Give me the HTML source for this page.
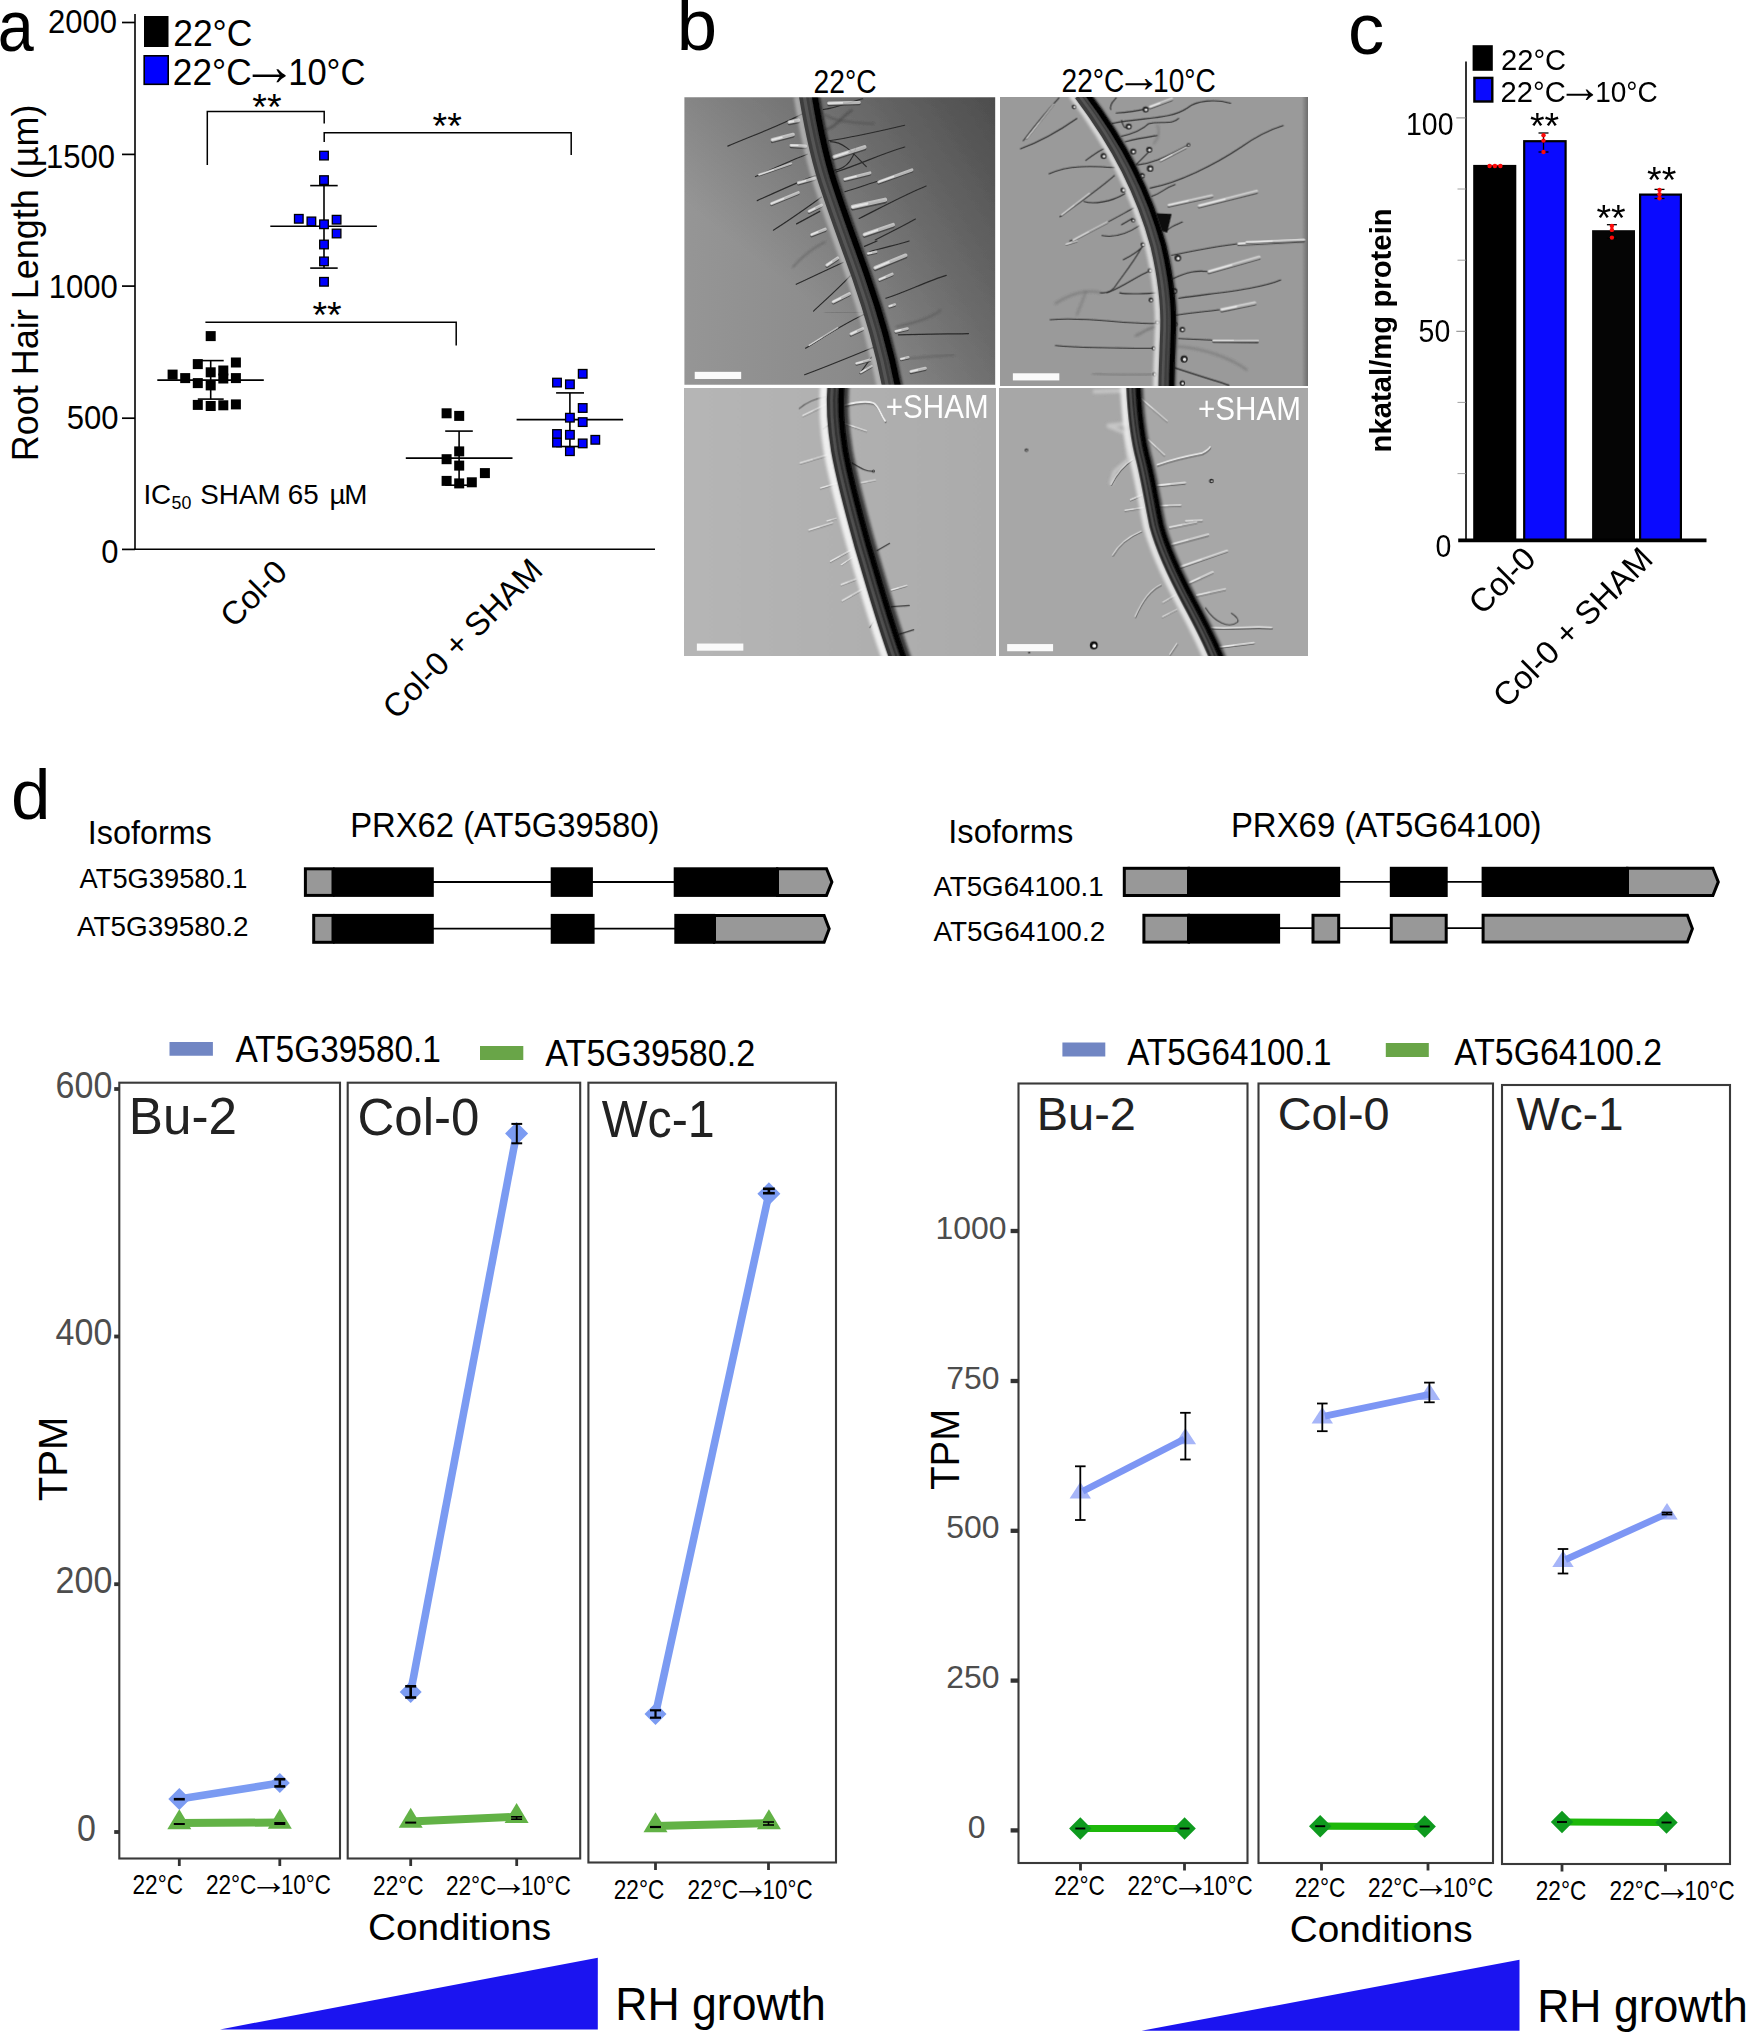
<!DOCTYPE html>
<html lang="en"><head><meta charset="utf-8"><title>Figure</title>
<style>html,body{margin:0;padding:0;background:#fff}svg{display:block}text{font-family:"Liberation Sans", sans-serif}</style>
</head><body>
<svg width="1746" height="2032" viewBox="0 0 1746 2032">
<rect width="1746" height="2032" fill="#fff"/>
<g id="panel-a">
<text x="-2.2" y="51.0" font-size="72.5" textLength="36" lengthAdjust="spacingAndGlyphs">a</text>
<line x1="135" y1="14" x2="135" y2="550.0" stroke="#000" stroke-width="1.6" />
<line x1="134.2" y1="549.2" x2="655" y2="549.2" stroke="#000" stroke-width="1.6" />
<line x1="122.0" y1="22.5" x2="135" y2="22.5" stroke="#000" stroke-width="1.7" />
<text x="117.0" y="32.7" font-size="33" text-anchor="end" textLength="69.0" lengthAdjust="spacingAndGlyphs">2000</text>
<line x1="122.0" y1="154.4" x2="135" y2="154.4" stroke="#000" stroke-width="1.7" />
<text x="115.1" y="167.8" font-size="33" text-anchor="end" textLength="69.0" lengthAdjust="spacingAndGlyphs">1500</text>
<line x1="122.0" y1="286.1" x2="135" y2="286.1" stroke="#000" stroke-width="1.7" />
<text x="117.8" y="297.5" font-size="33" text-anchor="end" textLength="69.0" lengthAdjust="spacingAndGlyphs">1000</text>
<line x1="122.0" y1="418.2" x2="135" y2="418.2" stroke="#000" stroke-width="1.7" />
<text x="118.5" y="428.9" font-size="33" text-anchor="end" textLength="51.8" lengthAdjust="spacingAndGlyphs">500</text>
<line x1="122.0" y1="549.4" x2="135" y2="549.4" stroke="#000" stroke-width="1.7" />
<text x="118.5" y="563.0" font-size="33" text-anchor="end" textLength="17.2" lengthAdjust="spacingAndGlyphs">0</text>
<text x="37.6" y="461.3" font-size="36" transform="rotate(-90 37.6 461.3)">Root Hair Length (µm)</text>
<rect x="144" y="16" width="24.5" height="31" fill="#000" />
<rect x="144.2" y="55.8" width="24" height="28.5" fill="#0000ff" stroke="#000" stroke-width="1.6" />
<text x="173.2" y="46.1" font-size="36.2" textLength="79.2" lengthAdjust="spacingAndGlyphs">22°C</text>
<text x="172.8" y="85" font-size="36.2" textLength="78.8" lengthAdjust="spacingAndGlyphs">22°C</text>
<text x="241.55" y="85.40" font-size="55.76">→</text>
<text x="288.2" y="85" font-size="36.2" textLength="77.2" lengthAdjust="spacingAndGlyphs">10°C</text>
<path d="M207.3 165 V111.6 H324.2 V123.6" fill="none" stroke="#000" stroke-width="1.5" />
<path d="M324.2 141.9 V132.7 H571.2 V155.1" fill="none" stroke="#000" stroke-width="1.5" />
<path d="M205.4 322.3 H456.2 V345.5" fill="none" stroke="#000" stroke-width="1.5" />
<text x="266.9" y="120.1" font-size="37.5" text-anchor="middle">**</text>
<text x="447.2" y="139.4" font-size="37.5" text-anchor="middle">**</text>
<text x="327" y="328.4" font-size="37.5" text-anchor="middle">**</text>
<text x="143.4" y="504.2" font-size="27.8">IC<tspan font-size="17.8" dy="5.2" x="171.6">50 </tspan><tspan dy="-5.2" x="200.3">SHAM </tspan><tspan x="287.8">65 </tspan><tspan x="329.6">µ</tspan><tspan x="344.3">M</tspan></text>
<line x1="157.3" y1="380.1" x2="263.8" y2="380.1" stroke="#000" stroke-width="1.6" />
<line x1="210.7" y1="360.6" x2="210.7" y2="399.1" stroke="#000" stroke-width="1.6" />
<line x1="197.8" y1="360.6" x2="223.7" y2="360.6" stroke="#000" stroke-width="1.6" />
<line x1="197.8" y1="399.1" x2="223.7" y2="399.1" stroke="#000" stroke-width="1.6" />
<rect x="205.7" y="331.1" width="10" height="10" fill="#000" />
<rect x="192.8" y="359.1" width="10" height="10" fill="#000" />
<rect x="230.9" y="357.5" width="10" height="10" fill="#000" />
<rect x="205.7" y="367.3" width="10" height="10" fill="#000" />
<rect x="218.3" y="365.5" width="10" height="10" fill="#000" />
<rect x="167.6" y="369.6" width="10" height="10" fill="#000" />
<rect x="180.2" y="373.1" width="10" height="10" fill="#000" />
<rect x="218.3" y="373.5" width="10" height="10" fill="#000" />
<rect x="230.9" y="373.1" width="10" height="10" fill="#000" />
<rect x="192.8" y="378.1" width="10" height="10" fill="#000" />
<rect x="205.7" y="380.4" width="10" height="10" fill="#000" />
<rect x="192.8" y="399.9" width="10" height="10" fill="#000" />
<rect x="205.7" y="401" width="10" height="10" fill="#000" />
<rect x="218.3" y="400.3" width="10" height="10" fill="#000" />
<rect x="230.9" y="399.4" width="10" height="10" fill="#000" />
<line x1="270.3" y1="226.2" x2="376.9" y2="226.2" stroke="#000" stroke-width="1.6" />
<line x1="324" y1="185.6" x2="324" y2="268.1" stroke="#000" stroke-width="1.6" />
<line x1="310.2" y1="185.6" x2="337.7" y2="185.6" stroke="#000" stroke-width="1.6" />
<line x1="310.2" y1="268.1" x2="337.7" y2="268.1" stroke="#000" stroke-width="1.6" />
<rect x="319.7" y="151.3" width="8.6" height="8.6" fill="#0000ff" stroke="#000" stroke-width="1.3" />
<rect x="319.7" y="175.8" width="8.6" height="8.6" fill="#0000ff" stroke="#000" stroke-width="1.3" />
<rect x="294.5" y="214.5" width="8.6" height="8.6" fill="#0000ff" stroke="#000" stroke-width="1.3" />
<rect x="307.1" y="217.1" width="8.6" height="8.6" fill="#0000ff" stroke="#000" stroke-width="1.3" />
<rect x="319.7" y="220.0" width="8.6" height="8.6" fill="#0000ff" stroke="#000" stroke-width="1.3" />
<rect x="332.3" y="215.4" width="8.6" height="8.6" fill="#0000ff" stroke="#000" stroke-width="1.3" />
<rect x="332.3" y="229.2" width="8.6" height="8.6" fill="#0000ff" stroke="#000" stroke-width="1.3" />
<rect x="319.7" y="240.2" width="8.6" height="8.6" fill="#0000ff" stroke="#000" stroke-width="1.3" />
<rect x="319.7" y="257.1" width="8.6" height="8.6" fill="#0000ff" stroke="#000" stroke-width="1.3" />
<rect x="319.7" y="277.5" width="8.6" height="8.6" fill="#0000ff" stroke="#000" stroke-width="1.3" />
<line x1="405.8" y1="458.1" x2="512.5" y2="458.1" stroke="#000" stroke-width="1.6" />
<line x1="459.1" y1="431.1" x2="459.1" y2="485.2" stroke="#000" stroke-width="1.6" />
<line x1="445.2" y1="431.1" x2="472.8" y2="431.1" stroke="#000" stroke-width="1.6" />
<line x1="445.2" y1="485.2" x2="472.8" y2="485.2" stroke="#000" stroke-width="1.6" />
<rect x="441.6" y="408.3" width="10" height="10" fill="#000" />
<rect x="454.2" y="410.9" width="10" height="10" fill="#000" />
<rect x="454.2" y="446.4" width="10" height="10" fill="#000" />
<rect x="441.6" y="454.2" width="10" height="10" fill="#000" />
<rect x="454.2" y="460.6" width="10" height="10" fill="#000" />
<rect x="479.9" y="468.1" width="10" height="10" fill="#000" />
<rect x="441.6" y="475.9" width="10" height="10" fill="#000" />
<rect x="454.2" y="478.4" width="10" height="10" fill="#000" />
<rect x="466.8" y="477.3" width="10" height="10" fill="#000" />
<line x1="516.6" y1="419.6" x2="623.1" y2="419.6" stroke="#000" stroke-width="1.6" />
<line x1="569.9" y1="392.9" x2="569.9" y2="446.5" stroke="#000" stroke-width="1.6" />
<line x1="556.1" y1="392.9" x2="584" y2="392.9" stroke="#000" stroke-width="1.6" />
<line x1="556.1" y1="446.5" x2="584" y2="446.5" stroke="#000" stroke-width="1.6" />
<rect x="578.4" y="369.5" width="8.6" height="8.6" fill="#0000ff" stroke="#000" stroke-width="1.3" />
<rect x="552.7" y="378.3" width="8.6" height="8.6" fill="#0000ff" stroke="#000" stroke-width="1.3" />
<rect x="565.6" y="380.0" width="8.6" height="8.6" fill="#0000ff" stroke="#000" stroke-width="1.3" />
<rect x="578.4" y="403.7" width="8.6" height="8.6" fill="#0000ff" stroke="#000" stroke-width="1.3" />
<rect x="565.6" y="413.4" width="8.6" height="8.6" fill="#0000ff" stroke="#000" stroke-width="1.3" />
<rect x="578.4" y="417.8" width="8.6" height="8.6" fill="#0000ff" stroke="#000" stroke-width="1.3" />
<rect x="552.7" y="429.7" width="8.6" height="8.6" fill="#0000ff" stroke="#000" stroke-width="1.3" />
<rect x="565.6" y="430.5" width="8.6" height="8.6" fill="#0000ff" stroke="#000" stroke-width="1.3" />
<rect x="591.0" y="435.5" width="8.6" height="8.6" fill="#0000ff" stroke="#000" stroke-width="1.3" />
<rect x="552.7" y="438.3" width="8.6" height="8.6" fill="#0000ff" stroke="#000" stroke-width="1.3" />
<rect x="578.4" y="439.1" width="8.6" height="8.6" fill="#0000ff" stroke="#000" stroke-width="1.3" />
<rect x="565.6" y="446.9" width="8.6" height="8.6" fill="#0000ff" stroke="#000" stroke-width="1.3" />
<text x="289.1" y="573.8" font-size="32.7" text-anchor="end" transform="rotate(-45 289.1 573.8)">Col-0</text>
<text x="544.5" y="572.3" font-size="32.7" text-anchor="end" transform="rotate(-45 544.5 572.3)">Col-0 + SHAM</text>
</g>
<g id="panel-b">
<defs>
<filter id="blp" x="0" y="0" width="1" height="1"><feGaussianBlur stdDeviation="2.6"/></filter>
<filter id="bl2" x="-5%" y="-5%" width="110%" height="110%"><feGaussianBlur stdDeviation="2.2"/></filter>
<filter id="bl4" x="-30%" y="-100%" width="160%" height="300%"><feGaussianBlur stdDeviation="3"/></filter>
<filter id="bl3" x="-20%" y="-20%" width="140%" height="140%"><feGaussianBlur stdDeviation="5"/></filter>
<filter id="bl6" x="-20%" y="-5%" width="140%" height="110%"><feGaussianBlur stdDeviation="9"/></filter>
<linearGradient id="g1" x1="0" y1="0" x2="1" y2="0"><stop offset="0" stop-color="#969696"/><stop offset="0.5" stop-color="#8b8b8b"/><stop offset="1" stop-color="#757575"/></linearGradient>
<linearGradient id="g1b" x1="1" y1="0" x2="0.4" y2="0.7"><stop offset="0" stop-color="#000" stop-opacity="0.36"/><stop offset="1" stop-color="#000" stop-opacity="0"/></linearGradient>
<linearGradient id="g2" x1="0" y1="0" x2="1" y2="0"><stop offset="0" stop-color="#9a9a9a"/><stop offset="0.5" stop-color="#6a6a6a"/><stop offset="1" stop-color="#8a8a8a"/></linearGradient>
<linearGradient id="g3" x1="0" y1="0" x2="1" y2="0"><stop offset="0" stop-color="#b6b6b6"/><stop offset="1" stop-color="#ababab"/></linearGradient>
</defs>
<text x="676.8" y="50.2" font-size="72.5">b</text>
<text x="813.6" y="93.2" font-size="32.3" textLength="63" lengthAdjust="spacingAndGlyphs">22°C</text>
<text x="1061.6" y="92.1" font-size="32.3" textLength="62.8" lengthAdjust="spacingAndGlyphs">22°C</text>
<text x="1116.22" y="92.19" font-size="45.42">→</text>
<text x="1153" y="92.1" font-size="32.3" textLength="62.8" lengthAdjust="spacingAndGlyphs">10°C</text>
<clipPath id="cp1"><rect x="2.2" y="1.1" width="1739.2" height="1609.4"/></clipPath>
<g transform="translate(684,97) scale(0.17870)"><g clip-path="url(#cp1)">
<g filter="url(#blp)"><rect x="-37.76160000000013" y="-38.88079999999999" width="1819.2368000000004" height="1689.4096" fill="url(#g1)"/>
<rect x="-37.76160000000013" y="-38.88079999999999" width="1819.2368000000004" height="1689.4096" fill="url(#g1b)"/>
<g filter="url(#bl2)"><path d="M660 95 C 560 150 400 210 245 275" fill="none" stroke="#2a2a2a" stroke-width="6.5" stroke-linecap="round"/>
<path d="M690 320 C 620 345 500 400 400 445" fill="none" stroke="#2a2a2a" stroke-width="6.5" stroke-linecap="round"/>
<path d="M735 440 C 650 470 520 530 410 580" fill="none" stroke="#2a2a2a" stroke-width="6.5" stroke-linecap="round"/>
<path d="M770 560 C 700 610 590 690 500 745" fill="none" stroke="#2a2a2a" stroke-width="6.5" stroke-linecap="round"/>
<path d="M760 640 L 630 710" fill="none" stroke="#2a2a2a" stroke-width="6.5" stroke-linecap="round"/>
<path d="M890 926 C 800 966 700 1016 628 1048" fill="none" stroke="#2a2a2a" stroke-width="6.5" stroke-linecap="round"/>
<path d="M930 1001 C 860 1076 780 1146 725 1198" fill="none" stroke="#2a2a2a" stroke-width="6.5" stroke-linecap="round"/>
<path d="M1010 1216 C 900 1266 760 1356 680 1406" fill="none" stroke="#2a2a2a" stroke-width="6.5" stroke-linecap="round"/>
<path d="M1060 1401 C 950 1446 780 1516 675 1554" fill="none" stroke="#2a2a2a" stroke-width="6.5" stroke-linecap="round"/>
<path d="M1050 1456 L 985 1546" fill="none" stroke="#2a2a2a" stroke-width="6.5" stroke-linecap="round"/>
<path d="M790 811 C 720 846 650 906 610 951" fill="none" stroke="#555" stroke-width="8" stroke-linecap="round" opacity="0.7" filter="url(#bl3)"/>
<path d="M1010 1206 C 940 1201 860 1206 790 1206" fill="none" stroke="#555" stroke-width="8" stroke-linecap="round" opacity="0.7" filter="url(#bl3)"/>
<line x1="590" y1="149.1" x2="640" y2="139.1" stroke="#3a3a3a" stroke-width="18.2" stroke-linecap="round" opacity="0.75"/>
<line x1="590" y1="140" x2="640" y2="130" stroke="#e6e6e6" stroke-width="20.8" stroke-linecap="round" opacity="0.68" filter="url(#bl4)"/>
<line x1="590" y1="140" x2="612" y2="136" stroke="#fff" stroke-width="10.4" stroke-linecap="round" opacity="0.6" filter="url(#bl4)"/>
<line x1="495" y1="249.1" x2="610" y2="219.1" stroke="#3a3a3a" stroke-width="18.2" stroke-linecap="round" opacity="0.75"/>
<line x1="495" y1="240" x2="610" y2="210" stroke="#e6e6e6" stroke-width="20.8" stroke-linecap="round" opacity="0.68" filter="url(#bl4)"/>
<line x1="495" y1="240" x2="547" y2="226" stroke="#fff" stroke-width="10.4" stroke-linecap="round" opacity="0.6" filter="url(#bl4)"/>
<line x1="600" y1="278.4" x2="680" y2="283.4" stroke="#3a3a3a" stroke-width="16.799999999999997" stroke-linecap="round" opacity="0.75"/>
<line x1="600" y1="270" x2="680" y2="275" stroke="#e6e6e6" stroke-width="19.2" stroke-linecap="round" opacity="0.68" filter="url(#bl4)"/>
<line x1="600" y1="270" x2="636" y2="272" stroke="#fff" stroke-width="9.6" stroke-linecap="round" opacity="0.6" filter="url(#bl4)"/>
<line x1="420" y1="439.9" x2="600" y2="376.9" stroke="#3a3a3a" stroke-width="9.799999999999999" stroke-linecap="round" opacity="0.75"/>
<line x1="420" y1="435" x2="600" y2="372" stroke="#e6e6e6" stroke-width="11.2" stroke-linecap="round" opacity="0.68" filter="url(#bl4)"/>
<line x1="420" y1="435" x2="501" y2="407" stroke="#fff" stroke-width="5.6" stroke-linecap="round" opacity="0.6" filter="url(#bl4)"/>
<line x1="640" y1="487.7" x2="730" y2="462.7" stroke="#3a3a3a" stroke-width="15.399999999999999" stroke-linecap="round" opacity="0.75"/>
<line x1="640" y1="480" x2="730" y2="455" stroke="#e6e6e6" stroke-width="17.6" stroke-linecap="round" opacity="0.68" filter="url(#bl4)"/>
<line x1="640" y1="480" x2="680" y2="469" stroke="#fff" stroke-width="8.8" stroke-linecap="round" opacity="0.6" filter="url(#bl4)"/>
<line x1="490" y1="604.0" x2="640" y2="542.0" stroke="#3a3a3a" stroke-width="14.0" stroke-linecap="round" opacity="0.75"/>
<line x1="490" y1="597" x2="640" y2="535" stroke="#e6e6e6" stroke-width="16.0" stroke-linecap="round" opacity="0.68" filter="url(#bl4)"/>
<line x1="490" y1="597" x2="558" y2="569" stroke="#fff" stroke-width="8.0" stroke-linecap="round" opacity="0.6" filter="url(#bl4)"/>
<line x1="700" y1="647.0" x2="770" y2="612.0" stroke="#3a3a3a" stroke-width="14.0" stroke-linecap="round" opacity="0.75"/>
<line x1="700" y1="640" x2="770" y2="605" stroke="#e6e6e6" stroke-width="16.0" stroke-linecap="round" opacity="0.68" filter="url(#bl4)"/>
<line x1="700" y1="640" x2="732" y2="624" stroke="#fff" stroke-width="8.0" stroke-linecap="round" opacity="0.6" filter="url(#bl4)"/>
<line x1="715" y1="777.7" x2="790" y2="747.7" stroke="#3a3a3a" stroke-width="15.399999999999999" stroke-linecap="round" opacity="0.75"/>
<line x1="715" y1="770" x2="790" y2="740" stroke="#e6e6e6" stroke-width="17.6" stroke-linecap="round" opacity="0.68" filter="url(#bl4)"/>
<line x1="715" y1="770" x2="749" y2="756" stroke="#fff" stroke-width="8.8" stroke-linecap="round" opacity="0.6" filter="url(#bl4)"/>
<line x1="800" y1="948.7" x2="860" y2="908.7" stroke="#3a3a3a" stroke-width="15.399999999999999" stroke-linecap="round" opacity="0.75"/>
<line x1="800" y1="941" x2="860" y2="901" stroke="#e6e6e6" stroke-width="17.6" stroke-linecap="round" opacity="0.68" filter="url(#bl4)"/>
<line x1="800" y1="941" x2="827" y2="923" stroke="#fff" stroke-width="8.8" stroke-linecap="round" opacity="0.6" filter="url(#bl4)"/>
<line x1="835" y1="1153.7" x2="925" y2="1108.7" stroke="#3a3a3a" stroke-width="15.399999999999999" stroke-linecap="round" opacity="0.75"/>
<line x1="835" y1="1146" x2="925" y2="1101" stroke="#e6e6e6" stroke-width="17.6" stroke-linecap="round" opacity="0.68" filter="url(#bl4)"/>
<line x1="835" y1="1146" x2="876" y2="1126" stroke="#fff" stroke-width="8.8" stroke-linecap="round" opacity="0.6" filter="url(#bl4)"/>
<line x1="935" y1="1333.7" x2="1000" y2="1303.7" stroke="#3a3a3a" stroke-width="15.399999999999999" stroke-linecap="round" opacity="0.75"/>
<line x1="935" y1="1326" x2="1000" y2="1296" stroke="#e6e6e6" stroke-width="17.6" stroke-linecap="round" opacity="0.68" filter="url(#bl4)"/>
<line x1="935" y1="1326" x2="964" y2="1312" stroke="#fff" stroke-width="8.8" stroke-linecap="round" opacity="0.6" filter="url(#bl4)"/>
<line x1="965" y1="1497.3" x2="1040" y2="1477.3" stroke="#3a3a3a" stroke-width="12.6" stroke-linecap="round" opacity="0.75"/>
<line x1="965" y1="1491" x2="1040" y2="1471" stroke="#e6e6e6" stroke-width="14.4" stroke-linecap="round" opacity="0.68" filter="url(#bl4)"/>
<line x1="965" y1="1491" x2="999" y2="1482" stroke="#fff" stroke-width="7.2" stroke-linecap="round" opacity="0.6" filter="url(#bl4)"/>
<line x1="990" y1="1546.6" x2="1050" y2="1511.6" stroke="#3a3a3a" stroke-width="11.2" stroke-linecap="round" opacity="0.75"/>
<line x1="990" y1="1541" x2="1050" y2="1506" stroke="#e6e6e6" stroke-width="12.8" stroke-linecap="round" opacity="0.68" filter="url(#bl4)"/>
<line x1="990" y1="1541" x2="1017" y2="1525" stroke="#fff" stroke-width="6.4" stroke-linecap="round" opacity="0.6" filter="url(#bl4)"/>
<line x1="700" y1="1393.5" x2="860" y2="1293.5" stroke="#3a3a3a" stroke-width="7.0" stroke-linecap="round" opacity="0.75"/>
<line x1="700" y1="1390" x2="860" y2="1290" stroke="#e6e6e6" stroke-width="8.0" stroke-linecap="round" opacity="0.68" filter="url(#bl4)"/>
<line x1="700" y1="1390" x2="772" y2="1345" stroke="#fff" stroke-width="4.0" stroke-linecap="round" opacity="0.6" filter="url(#bl4)"/>
<path d="M780 70 C 850 60 930 30 1000 10" fill="none" stroke="#2a2a2a" stroke-width="6.5" stroke-linecap="round"/>
<path d="M810 245 C 950 225 1100 190 1235 158" fill="none" stroke="#2a2a2a" stroke-width="6.5" stroke-linecap="round"/>
<path d="M820 250 C 900 250 960 330 1020 390" fill="none" stroke="#2a2a2a" stroke-width="6.5" stroke-linecap="round"/>
<path d="M840 410 C 920 400 950 330 960 290" fill="none" stroke="#2a2a2a" stroke-width="6.5" stroke-linecap="round"/>
<path d="M850 420 C 1000 370 1100 320 1235 280" fill="none" stroke="#2a2a2a" stroke-width="6.5" stroke-linecap="round"/>
<path d="M900 530 C 1000 500 1050 480 1090 470" fill="none" stroke="#2a2a2a" stroke-width="6.5" stroke-linecap="round"/>
<path d="M980 680 C 1100 620 1250 540 1355 498" fill="none" stroke="#2a2a2a" stroke-width="6.5" stroke-linecap="round"/>
<path d="M1070 800 C 1150 760 1230 720 1295 683" fill="none" stroke="#2a2a2a" stroke-width="6.5" stroke-linecap="round"/>
<path d="M1010 836 L 1080 806" fill="none" stroke="#2a2a2a" stroke-width="6.5" stroke-linecap="round"/>
<path d="M1040 866 C 1100 846 1200 826 1260 806" fill="none" stroke="#2a2a2a" stroke-width="6.5" stroke-linecap="round"/>
<path d="M1130 1126 C 1230 1096 1370 1026 1468 998" fill="none" stroke="#2a2a2a" stroke-width="6.5" stroke-linecap="round"/>
<path d="M1200 1331 C 1350 1326 1500 1326 1592 1324" fill="none" stroke="#2a2a2a" stroke-width="6.5" stroke-linecap="round"/>
<path d="M790 100 C 830 130 900 140 1060 150" fill="none" stroke="#4a4a4a" stroke-width="8" stroke-linecap="round" opacity="0.7" filter="url(#bl3)"/>
<path d="M800 180 C 850 170 900 90 940 75" fill="none" stroke="#444" stroke-width="12" stroke-linecap="round" opacity="0.7" filter="url(#bl3)"/>
<path d="M1190 1286 C 1280 1266 1390 1236 1438 1191" fill="none" stroke="#555" stroke-width="9" stroke-linecap="round" opacity="0.7" filter="url(#bl3)"/>
<path d="M1240 1466 C 1350 1456 1450 1446 1510 1444" fill="none" stroke="#555" stroke-width="8" stroke-linecap="round" opacity="0.7" filter="url(#bl3)"/>
<line x1="810" y1="43.4" x2="980" y2="38.4" stroke="#3a3a3a" stroke-width="16.799999999999997" stroke-linecap="round" opacity="0.75"/>
<line x1="810" y1="35" x2="980" y2="30" stroke="#e6e6e6" stroke-width="19.2" stroke-linecap="round" opacity="0.68" filter="url(#bl4)"/>
<line x1="810" y1="35" x2="886" y2="33" stroke="#fff" stroke-width="9.6" stroke-linecap="round" opacity="0.6" filter="url(#bl4)"/>
<line x1="840" y1="344.8" x2="1010" y2="289.8" stroke="#3a3a3a" stroke-width="19.599999999999998" stroke-linecap="round" opacity="0.75"/>
<line x1="840" y1="335" x2="1010" y2="280" stroke="#e6e6e6" stroke-width="22.4" stroke-linecap="round" opacity="0.68" filter="url(#bl4)"/>
<line x1="840" y1="335" x2="916" y2="310" stroke="#fff" stroke-width="11.2" stroke-linecap="round" opacity="0.6" filter="url(#bl4)"/>
<line x1="900" y1="467.7" x2="1040" y2="432.7" stroke="#3a3a3a" stroke-width="15.399999999999999" stroke-linecap="round" opacity="0.75"/>
<line x1="900" y1="460" x2="1040" y2="425" stroke="#e6e6e6" stroke-width="17.6" stroke-linecap="round" opacity="0.68" filter="url(#bl4)"/>
<line x1="900" y1="460" x2="963" y2="444" stroke="#fff" stroke-width="8.8" stroke-linecap="round" opacity="0.6" filter="url(#bl4)"/>
<line x1="1090" y1="482.7" x2="1275" y2="415.7" stroke="#3a3a3a" stroke-width="15.399999999999999" stroke-linecap="round" opacity="0.75"/>
<line x1="1090" y1="475" x2="1275" y2="408" stroke="#e6e6e6" stroke-width="17.6" stroke-linecap="round" opacity="0.68" filter="url(#bl4)"/>
<line x1="1090" y1="475" x2="1173" y2="445" stroke="#fff" stroke-width="8.8" stroke-linecap="round" opacity="0.6" filter="url(#bl4)"/>
<line x1="945" y1="625.5" x2="1125" y2="585.5" stroke="#3a3a3a" stroke-width="21.0" stroke-linecap="round" opacity="0.75"/>
<line x1="945" y1="615" x2="1125" y2="575" stroke="#e6e6e6" stroke-width="24.0" stroke-linecap="round" opacity="0.68" filter="url(#bl4)"/>
<line x1="945" y1="615" x2="1026" y2="597" stroke="#fff" stroke-width="12.0" stroke-linecap="round" opacity="0.6" filter="url(#bl4)"/>
<line x1="1010" y1="779.1" x2="1170" y2="724.1" stroke="#3a3a3a" stroke-width="18.2" stroke-linecap="round" opacity="0.75"/>
<line x1="1010" y1="770" x2="1170" y2="715" stroke="#e6e6e6" stroke-width="20.8" stroke-linecap="round" opacity="0.68" filter="url(#bl4)"/>
<line x1="1010" y1="770" x2="1082" y2="745" stroke="#fff" stroke-width="10.4" stroke-linecap="round" opacity="0.6" filter="url(#bl4)"/>
<line x1="1030" y1="882.3" x2="1075" y2="872.3" stroke="#3a3a3a" stroke-width="12.6" stroke-linecap="round" opacity="0.75"/>
<line x1="1030" y1="876" x2="1075" y2="866" stroke="#e6e6e6" stroke-width="14.4" stroke-linecap="round" opacity="0.68" filter="url(#bl4)"/>
<line x1="1030" y1="876" x2="1050" y2="872" stroke="#fff" stroke-width="7.2" stroke-linecap="round" opacity="0.6" filter="url(#bl4)"/>
<line x1="1070" y1="965.1" x2="1240" y2="895.1" stroke="#3a3a3a" stroke-width="18.2" stroke-linecap="round" opacity="0.75"/>
<line x1="1070" y1="956" x2="1240" y2="886" stroke="#e6e6e6" stroke-width="20.8" stroke-linecap="round" opacity="0.68" filter="url(#bl4)"/>
<line x1="1070" y1="956" x2="1146" y2="924" stroke="#fff" stroke-width="10.4" stroke-linecap="round" opacity="0.6" filter="url(#bl4)"/>
<line x1="1095" y1="1028.0" x2="1165" y2="998.0" stroke="#3a3a3a" stroke-width="14.0" stroke-linecap="round" opacity="0.75"/>
<line x1="1095" y1="1021" x2="1165" y2="991" stroke="#e6e6e6" stroke-width="16.0" stroke-linecap="round" opacity="0.68" filter="url(#bl4)"/>
<line x1="1095" y1="1021" x2="1126" y2="1008" stroke="#fff" stroke-width="8.0" stroke-linecap="round" opacity="0.6" filter="url(#bl4)"/>
<line x1="1150" y1="1177.3" x2="1180" y2="1167.3" stroke="#3a3a3a" stroke-width="12.6" stroke-linecap="round" opacity="0.75"/>
<line x1="1150" y1="1171" x2="1180" y2="1161" stroke="#e6e6e6" stroke-width="14.4" stroke-linecap="round" opacity="0.68" filter="url(#bl4)"/>
<line x1="1150" y1="1171" x2="1164" y2="1166" stroke="#fff" stroke-width="7.2" stroke-linecap="round" opacity="0.6" filter="url(#bl4)"/>
<line x1="1185" y1="1318.0" x2="1250" y2="1303.0" stroke="#3a3a3a" stroke-width="14.0" stroke-linecap="round" opacity="0.75"/>
<line x1="1185" y1="1311" x2="1250" y2="1296" stroke="#e6e6e6" stroke-width="16.0" stroke-linecap="round" opacity="0.68" filter="url(#bl4)"/>
<line x1="1185" y1="1311" x2="1214" y2="1304" stroke="#fff" stroke-width="8.0" stroke-linecap="round" opacity="0.6" filter="url(#bl4)"/>
<line x1="1215" y1="1472.3" x2="1255" y2="1462.3" stroke="#3a3a3a" stroke-width="12.6" stroke-linecap="round" opacity="0.75"/>
<line x1="1215" y1="1466" x2="1255" y2="1456" stroke="#e6e6e6" stroke-width="14.4" stroke-linecap="round" opacity="0.68" filter="url(#bl4)"/>
<line x1="1215" y1="1466" x2="1233" y2="1462" stroke="#fff" stroke-width="7.2" stroke-linecap="round" opacity="0.6" filter="url(#bl4)"/>
<line x1="1270" y1="1543.7" x2="1350" y2="1525.7" stroke="#3a3a3a" stroke-width="15.399999999999999" stroke-linecap="round" opacity="0.75"/>
<line x1="1270" y1="1536" x2="1350" y2="1518" stroke="#e6e6e6" stroke-width="17.6" stroke-linecap="round" opacity="0.68" filter="url(#bl4)"/>
<line x1="1270" y1="1536" x2="1306" y2="1528" stroke="#fff" stroke-width="8.8" stroke-linecap="round" opacity="0.6" filter="url(#bl4)"/>
</g>
<path d="M695 -10 C 730 200 770 380 820 520 C 880 700 930 830 990 1000 C 1060 1200 1120 1400 1165 1640" transform="translate(-64,8)" fill="none" stroke="#d8d8d8" stroke-width="34" opacity="0.55" filter="url(#bl6)"/>
<path d="M695 -10 C 730 200 770 380 820 520 C 880 700 930 830 990 1000 C 1060 1200 1120 1400 1165 1640" transform="translate(44,0)" fill="none" stroke="#0a0a0a" stroke-width="36" opacity="0.9" filter="url(#bl6)"/>
<path d="M695 -10 C 730 200 770 380 820 520 C 880 700 930 830 990 1000 C 1060 1200 1120 1400 1165 1640" fill="none" stroke="#3c3c3c" stroke-width="104"/>
<path d="M695 -10 C 730 200 770 380 820 520 C 880 700 930 830 990 1000 C 1060 1200 1120 1400 1165 1640" transform="translate(-22.88,0)" fill="none" stroke="#5a5a5a" stroke-width="18.72" opacity="0.8"/>
<path d="M695 -10 C 730 200 770 380 820 520 C 880 700 930 830 990 1000 C 1060 1200 1120 1400 1165 1640" transform="translate(5.2,0)" fill="none" stroke="#4a4a4a" stroke-width="10.4" opacity="0.8"/>
<path d="M695 -10 C 730 200 770 380 820 520 C 880 700 930 830 990 1000 C 1060 1200 1120 1400 1165 1640" transform="translate(35.36,0)" fill="none" stroke="#050505" stroke-width="33.28"/>
</g>
<rect x="60" y="1538" width="260" height="40" fill="#fafafa" />
</g></g>
<clipPath id="cp2"><rect x="0.0" y="1.1" width="1723.0" height="1613.3"/></clipPath>
<g transform="translate(1000,97) scale(0.17870)"><g clip-path="url(#cp2)">
<g filter="url(#blp)"><rect x="-40.0" y="-38.88079999999999" width="1803.0084000000006" height="1693.3267999999998" fill="#9a9a9a"/>
<rect x="1688.0084000000006" y="-38.88079999999999" width="75" height="1693.3267999999998" fill="url(#g2)"/>
<g filter="url(#bl2)"><path d="M330 5 C 260 80 180 180 130 245" fill="none" stroke="#2c2c2c" stroke-width="6" stroke-linecap="round"/>
<path d="M430 120 C 330 190 220 250 115 290" fill="none" stroke="#2c2c2c" stroke-width="6" stroke-linecap="round"/>
<path d="M580 290 C 540 310 500 340 480 355" fill="none" stroke="#2c2c2c" stroke-width="6" stroke-linecap="round"/>
<path d="M640 395 C 520 385 380 380 275 430" fill="none" stroke="#2c2c2c" stroke-width="6" stroke-linecap="round"/>
<path d="M640 440 C 560 510 420 610 335 670" fill="none" stroke="#2c2c2c" stroke-width="6" stroke-linecap="round"/>
<path d="M700 540 C 620 590 520 600 470 585" fill="none" stroke="#2c2c2c" stroke-width="6" stroke-linecap="round"/>
<path d="M750 620 C 640 680 480 770 390 806" fill="none" stroke="#2c2c2c" stroke-width="6" stroke-linecap="round"/>
<path d="M780 720 C 720 760 640 790 570 775" fill="none" stroke="#2c2c2c" stroke-width="6" stroke-linecap="round"/>
<path d="M740 680 L 680 715" fill="none" stroke="#2c2c2c" stroke-width="6" stroke-linecap="round"/>
<path d="M800 836 C 760 876 720 896 690 911" fill="none" stroke="#2c2c2c" stroke-width="6" stroke-linecap="round"/>
<path d="M790 846 C 740 936 680 1006 640 1066 C 620 1090 600 1100 560 1095" fill="none" stroke="#2c2c2c" stroke-width="6" stroke-linecap="round"/>
<path d="M830 976 C 760 1006 700 1056 600 1096" fill="none" stroke="#2c2c2c" stroke-width="6" stroke-linecap="round"/>
<path d="M870 1096 C 800 1101 720 1106 670 1096" fill="none" stroke="#2c2c2c" stroke-width="6" stroke-linecap="round"/>
<path d="M880 1266 C 700 1276 500 1226 280 1246" fill="none" stroke="#2c2c2c" stroke-width="6" stroke-linecap="round"/>
<path d="M850 1406 C 700 1406 480 1406 310 1391" fill="none" stroke="#2c2c2c" stroke-width="6" stroke-linecap="round"/>
<path d="M560 1095 C 480 1070 380 1110 310 1156" fill="none" stroke="#666" stroke-width="10" stroke-linecap="round" opacity="0.6" filter="url(#bl3)"/>
<path d="M480 1090 C 460 1150 440 1190 430 1220" fill="none" stroke="#666" stroke-width="10" stroke-linecap="round" opacity="0.5" filter="url(#bl3)"/>
<path d="M870 1286 C 820 1296 790 1326 760 1336" fill="none" stroke="#555" stroke-width="8" stroke-linecap="round" opacity="0.7" filter="url(#bl3)"/>
<path d="M860 1551 C 760 1556 640 1556 520 1546" fill="none" stroke="#666" stroke-width="10" stroke-linecap="round" opacity="0.6" filter="url(#bl3)"/>
<line x1="150" y1="233.5" x2="300" y2="43.5" stroke="#444" stroke-width="7.0" stroke-linecap="round" opacity="0.75"/>
<line x1="150" y1="230" x2="300" y2="40" stroke="#e6e6e6" stroke-width="8.0" stroke-linecap="round" opacity="0.68" filter="url(#bl4)"/>
<line x1="150" y1="230" x2="218" y2="144" stroke="#fff" stroke-width="4.0" stroke-linecap="round" opacity="0.6" filter="url(#bl4)"/>
<line x1="345" y1="664.2" x2="500" y2="544.2" stroke="#444" stroke-width="8.399999999999999" stroke-linecap="round" opacity="0.75"/>
<line x1="345" y1="660" x2="500" y2="540" stroke="#e6e6e6" stroke-width="9.6" stroke-linecap="round" opacity="0.68" filter="url(#bl4)"/>
<line x1="345" y1="660" x2="415" y2="606" stroke="#fff" stroke-width="4.8" stroke-linecap="round" opacity="0.6" filter="url(#bl4)"/>
<line x1="410" y1="804.9" x2="600" y2="704.9" stroke="#444" stroke-width="9.799999999999999" stroke-linecap="round" opacity="0.75"/>
<line x1="410" y1="800" x2="600" y2="700" stroke="#e6e6e6" stroke-width="11.2" stroke-linecap="round" opacity="0.68" filter="url(#bl4)"/>
<line x1="410" y1="800" x2="496" y2="755" stroke="#fff" stroke-width="5.6" stroke-linecap="round" opacity="0.6" filter="url(#bl4)"/>
<line x1="370" y1="828.2" x2="430" y2="810.2" stroke="#444" stroke-width="8.399999999999999" stroke-linecap="round" opacity="0.75"/>
<line x1="370" y1="824" x2="430" y2="806" stroke="#e6e6e6" stroke-width="9.6" stroke-linecap="round" opacity="0.68" filter="url(#bl4)"/>
<line x1="370" y1="824" x2="397" y2="816" stroke="#fff" stroke-width="4.8" stroke-linecap="round" opacity="0.6" filter="url(#bl4)"/>
<path d="M620 70 C 610 40 640 20 650 5" fill="none" stroke="#2c2c2c" stroke-width="6" stroke-linecap="round"/>
<path d="M650 90 C 720 85 780 75 820 65" fill="none" stroke="#2c2c2c" stroke-width="6" stroke-linecap="round"/>
<path d="M620 150 C 800 110 950 130 1050 60 C 1100 20 1200 10 1290 35" fill="none" stroke="#2c2c2c" stroke-width="6" stroke-linecap="round"/>
<path d="M680 130 C 690 170 700 180 720 165" fill="none" stroke="#2c2c2c" stroke-width="6" stroke-linecap="round"/>
<path d="M680 220 C 760 200 800 180 830 150 C 900 130 960 160 1000 120" fill="none" stroke="#2c2c2c" stroke-width="6" stroke-linecap="round"/>
<path d="M700 250 C 780 230 850 220 880 215" fill="none" stroke="#2c2c2c" stroke-width="6" stroke-linecap="round"/>
<path d="M760 380 L 830 310" fill="none" stroke="#2c2c2c" stroke-width="6" stroke-linecap="round"/>
<path d="M770 380 C 850 370 900 350 1050 270" fill="none" stroke="#2c2c2c" stroke-width="6" stroke-linecap="round"/>
<path d="M840 510 C 1000 480 1200 380 1350 280 C 1450 210 1520 180 1585 160" fill="none" stroke="#2c2c2c" stroke-width="6" stroke-linecap="round"/>
<path d="M850 555 C 900 540 920 510 980 490" fill="none" stroke="#2c2c2c" stroke-width="6" stroke-linecap="round"/>
<path d="M930 750 C 960 720 1000 710 1020 700" fill="none" stroke="#2c2c2c" stroke-width="6" stroke-linecap="round"/>
<path d="M960 886 C 1100 856 1250 831 1330 821" fill="none" stroke="#2c2c2c" stroke-width="6" stroke-linecap="round"/>
<path d="M970 1016 C 1050 976 1100 971 1160 976" fill="none" stroke="#2c2c2c" stroke-width="6" stroke-linecap="round"/>
<path d="M1000 1126 C 1200 1096 1450 1076 1570 1024" fill="none" stroke="#2c2c2c" stroke-width="6" stroke-linecap="round"/>
<path d="M980 1221 C 1100 1206 1180 1196 1230 1191" fill="none" stroke="#2c2c2c" stroke-width="6" stroke-linecap="round"/>
<path d="M1000 1351 C 1080 1356 1140 1358 1190 1361" fill="none" stroke="#2c2c2c" stroke-width="6" stroke-linecap="round"/>
<path d="M1000 1396 C 1150 1406 1300 1466 1380 1526" fill="none" stroke="#666" stroke-width="10" stroke-linecap="round" opacity="0.6" filter="url(#bl3)"/>
<path d="M980 1516 C 1100 1556 1200 1586 1280 1612" fill="none" stroke="#333" stroke-width="9" stroke-linecap="round" opacity="0.9"/>
<path d="M880 160 C 900 200 880 240 860 260" fill="none" stroke="#666" stroke-width="10" stroke-linecap="round" opacity="0.5" filter="url(#bl3)"/>
<line x1="840" y1="62.0" x2="960" y2="17.0" stroke="#333" stroke-width="14.0" stroke-linecap="round" opacity="0.75"/>
<line x1="840" y1="55" x2="960" y2="10" stroke="#e6e6e6" stroke-width="16.0" stroke-linecap="round" opacity="0.68" filter="url(#bl4)"/>
<line x1="840" y1="55" x2="894" y2="35" stroke="#fff" stroke-width="8.0" stroke-linecap="round" opacity="0.6" filter="url(#bl4)"/>
<line x1="900" y1="359.9" x2="1040" y2="286.9" stroke="#333" stroke-width="9.799999999999999" stroke-linecap="round" opacity="0.75"/>
<line x1="900" y1="355" x2="1040" y2="282" stroke="#e6e6e6" stroke-width="11.2" stroke-linecap="round" opacity="0.68" filter="url(#bl4)"/>
<line x1="900" y1="355" x2="963" y2="322" stroke="#fff" stroke-width="5.6" stroke-linecap="round" opacity="0.6" filter="url(#bl4)"/>
<line x1="945" y1="612.0" x2="1185" y2="559.0" stroke="#333" stroke-width="14.0" stroke-linecap="round" opacity="0.75"/>
<line x1="945" y1="605" x2="1185" y2="552" stroke="#e6e6e6" stroke-width="16.0" stroke-linecap="round" opacity="0.68" filter="url(#bl4)"/>
<line x1="945" y1="605" x2="1053" y2="581" stroke="#fff" stroke-width="8.0" stroke-linecap="round" opacity="0.6" filter="url(#bl4)"/>
<line x1="1115" y1="615.7" x2="1435" y2="534.7" stroke="#333" stroke-width="15.399999999999999" stroke-linecap="round" opacity="0.75"/>
<line x1="1115" y1="608" x2="1435" y2="527" stroke="#e6e6e6" stroke-width="17.6" stroke-linecap="round" opacity="0.68" filter="url(#bl4)"/>
<line x1="1115" y1="608" x2="1259" y2="572" stroke="#fff" stroke-width="8.8" stroke-linecap="round" opacity="0.6" filter="url(#bl4)"/>
<line x1="1335" y1="828.0" x2="1700" y2="808.0" stroke="#333" stroke-width="14.0" stroke-linecap="round" opacity="0.75"/>
<line x1="1335" y1="821" x2="1700" y2="801" stroke="#e6e6e6" stroke-width="16.0" stroke-linecap="round" opacity="0.68" filter="url(#bl4)"/>
<line x1="1335" y1="821" x2="1499" y2="812" stroke="#fff" stroke-width="8.0" stroke-linecap="round" opacity="0.6" filter="url(#bl4)"/>
<line x1="1170" y1="983.7" x2="1450" y2="903.7" stroke="#333" stroke-width="15.399999999999999" stroke-linecap="round" opacity="0.75"/>
<line x1="1170" y1="976" x2="1450" y2="896" stroke="#e6e6e6" stroke-width="17.6" stroke-linecap="round" opacity="0.68" filter="url(#bl4)"/>
<line x1="1170" y1="976" x2="1296" y2="940" stroke="#fff" stroke-width="8.8" stroke-linecap="round" opacity="0.6" filter="url(#bl4)"/>
<line x1="1240" y1="1197.7" x2="1425" y2="1159.7" stroke="#333" stroke-width="15.399999999999999" stroke-linecap="round" opacity="0.75"/>
<line x1="1240" y1="1190" x2="1425" y2="1152" stroke="#e6e6e6" stroke-width="17.6" stroke-linecap="round" opacity="0.68" filter="url(#bl4)"/>
<line x1="1240" y1="1190" x2="1323" y2="1173" stroke="#fff" stroke-width="8.8" stroke-linecap="round" opacity="0.6" filter="url(#bl4)"/>
<line x1="1195" y1="1368.7" x2="1440" y2="1371.7" stroke="#333" stroke-width="15.399999999999999" stroke-linecap="round" opacity="0.75"/>
<line x1="1195" y1="1361" x2="1440" y2="1364" stroke="#e6e6e6" stroke-width="17.6" stroke-linecap="round" opacity="0.68" filter="url(#bl4)"/>
<line x1="1195" y1="1361" x2="1305" y2="1362" stroke="#fff" stroke-width="8.8" stroke-linecap="round" opacity="0.6" filter="url(#bl4)"/>
<line x1="1380" y1="817.6" x2="1700" y2="805.6" stroke="#333" stroke-width="11.2" stroke-linecap="round" opacity="0.75"/>
<line x1="1380" y1="812" x2="1700" y2="800" stroke="#e6e6e6" stroke-width="12.8" stroke-linecap="round" opacity="0.68" filter="url(#bl4)"/>
<line x1="1380" y1="812" x2="1524" y2="807" stroke="#fff" stroke-width="6.4" stroke-linecap="round" opacity="0.6" filter="url(#bl4)"/>
<circle cx="815" cy="70" r="17.0" fill="#262626" filter="url(#bl4)"/><circle cx="817.0" cy="72.0" r="8.0" fill="#e8e8e8" filter="url(#bl4)"/>
<circle cx="720" cy="165" r="17.0" fill="#262626" filter="url(#bl4)"/><circle cx="722.0" cy="167.0" r="8.0" fill="#e8e8e8" filter="url(#bl4)"/>
<circle cx="745" cy="305" r="17.0" fill="#262626" filter="url(#bl4)"/><circle cx="747.0" cy="307.0" r="8.0" fill="#e8e8e8" filter="url(#bl4)"/>
<circle cx="835" cy="295" r="17.0" fill="#262626" filter="url(#bl4)"/><circle cx="837.0" cy="297.0" r="8.0" fill="#e8e8e8" filter="url(#bl4)"/>
<circle cx="840" cy="400" r="18.7" fill="#262626" filter="url(#bl4)"/><circle cx="842.2" cy="402.2" r="8.8" fill="#e8e8e8" filter="url(#bl4)"/>
<circle cx="795" cy="440" r="15.3" fill="#262626" filter="url(#bl4)"/><circle cx="796.8" cy="441.8" r="7.2" fill="#e8e8e8" filter="url(#bl4)"/>
<circle cx="415" cy="55" r="13.6" fill="#262626" filter="url(#bl4)"/><circle cx="416.6" cy="56.6" r="6.4" fill="#e8e8e8" filter="url(#bl4)"/>
<circle cx="580" cy="330" r="17.0" fill="#262626" filter="url(#bl4)"/><circle cx="582.0" cy="332.0" r="8.0" fill="#e8e8e8" filter="url(#bl4)"/>
<circle cx="690" cy="520" r="15.3" fill="#262626" filter="url(#bl4)"/><circle cx="691.8" cy="521.8" r="7.2" fill="#e8e8e8" filter="url(#bl4)"/>
<circle cx="745" cy="690" r="11.9" fill="#262626" filter="url(#bl4)"/><circle cx="746.4" cy="691.4" r="5.6" fill="#e8e8e8" filter="url(#bl4)"/>
<circle cx="800" cy="826" r="13.6" fill="#262626" filter="url(#bl4)"/><circle cx="801.6" cy="827.6" r="6.4" fill="#e8e8e8" filter="url(#bl4)"/>
<circle cx="995" cy="901" r="18.7" fill="#262626" filter="url(#bl4)"/><circle cx="997.2" cy="903.2" r="8.8" fill="#e8e8e8" filter="url(#bl4)"/>
<circle cx="840" cy="971" r="13.6" fill="#262626" filter="url(#bl4)"/><circle cx="841.6" cy="972.6" r="6.4" fill="#e8e8e8" filter="url(#bl4)"/>
<circle cx="975" cy="1086" r="17.0" fill="#262626" filter="url(#bl4)"/><circle cx="977.0" cy="1088.0" r="8.0" fill="#e8e8e8" filter="url(#bl4)"/>
<circle cx="845" cy="1136" r="13.6" fill="#262626" filter="url(#bl4)"/><circle cx="846.6" cy="1137.6" r="6.4" fill="#e8e8e8" filter="url(#bl4)"/>
<circle cx="880" cy="1261" r="11.9" fill="#262626" filter="url(#bl4)"/><circle cx="881.4" cy="1262.4" r="5.6" fill="#e8e8e8" filter="url(#bl4)"/>
<circle cx="980" cy="1271" r="13.6" fill="#262626" filter="url(#bl4)"/><circle cx="981.6" cy="1272.6" r="6.4" fill="#e8e8e8" filter="url(#bl4)"/>
<circle cx="1020" cy="1301" r="15.3" fill="#262626" filter="url(#bl4)"/><circle cx="1021.8" cy="1302.8" r="7.2" fill="#e8e8e8" filter="url(#bl4)"/>
<circle cx="860" cy="1406" r="11.9" fill="#262626" filter="url(#bl4)"/><circle cx="861.4" cy="1407.4" r="5.6" fill="#e8e8e8" filter="url(#bl4)"/>
<circle cx="1030" cy="1466" r="20.4" fill="#262626" filter="url(#bl4)"/><circle cx="1032.4" cy="1468.4" r="9.6" fill="#e8e8e8" filter="url(#bl4)"/>
<circle cx="865" cy="1551" r="11.9" fill="#262626" filter="url(#bl4)"/><circle cx="866.4" cy="1552.4" r="5.6" fill="#e8e8e8" filter="url(#bl4)"/>
<circle cx="1020" cy="1601" r="15.3" fill="#262626" filter="url(#bl4)"/><circle cx="1021.8" cy="1602.8" r="7.2" fill="#e8e8e8" filter="url(#bl4)"/>
<circle cx="1055" cy="268" r="10.2" fill="#262626" filter="url(#bl4)"/><circle cx="1056.2" cy="269.2" r="4.8" fill="#e8e8e8" filter="url(#bl4)"/>
<path d="M860 650 L960 655 L935 760 L880 740 Z" fill="#0d0d0d" filter="url(#bl4)"/>
</g>
<path d="M455 -20 C 560 120 650 260 720 400 C 800 560 850 700 885 830 C 920 980 945 1150 940 1300 C 935 1450 930 1550 930 1640" transform="translate(-58,8)" fill="none" stroke="#ececec" stroke-width="30" opacity="0.8" filter="url(#bl6)"/>
<path d="M455 -20 C 560 120 650 260 720 400 C 800 560 850 700 885 830 C 920 980 945 1150 940 1300 C 935 1450 930 1550 930 1640" transform="translate(34,0)" fill="none" stroke="#0a0a0a" stroke-width="30" opacity="0.9" filter="url(#bl6)"/>
<path d="M455 -20 C 560 120 650 260 720 400 C 800 560 850 700 885 830 C 920 980 945 1150 940 1300 C 935 1450 930 1550 930 1640" fill="none" stroke="#3c3c3c" stroke-width="88"/>
<path d="M455 -20 C 560 120 650 260 720 400 C 800 560 850 700 885 830 C 920 980 945 1150 940 1300 C 935 1450 930 1550 930 1640" transform="translate(-19.36,0)" fill="none" stroke="#5a5a5a" stroke-width="15.84" opacity="0.8"/>
<path d="M455 -20 C 560 120 650 260 720 400 C 800 560 850 700 885 830 C 920 980 945 1150 940 1300 C 935 1450 930 1550 930 1640" transform="translate(4.4,0)" fill="none" stroke="#4a4a4a" stroke-width="8.8" opacity="0.8"/>
<path d="M455 -20 C 560 120 650 260 720 400 C 800 560 850 700 885 830 C 920 980 945 1150 940 1300 C 935 1450 930 1550 930 1640" transform="translate(29.92,0)" fill="none" stroke="#050505" stroke-width="28.16"/>
</g>
<rect x="72" y="1546" width="260" height="40" fill="#fafafa" />
</g></g>
<clipPath id="cp3"><rect x="2.2" y="0.6" width="1739.2" height="1498.6"/></clipPath>
<g transform="translate(684,388) scale(0.17870)"><g clip-path="url(#cp3)">
<g filter="url(#blp)"><rect x="-37.76160000000013" y="-39.440399999999876" width="1819.2368000000004" height="1578.6087999999997" fill="url(#g3)"/>
<g filter="url(#bl2)"><path d="M790 50 C 730 60 680 85 645 115" fill="none" stroke="#555" stroke-width="7" stroke-linecap="round" opacity="0.9"/>
<line x1="665" y1="159.2" x2="790" y2="99.2" stroke="#666" stroke-width="8.399999999999999" stroke-linecap="round" opacity="0.75"/>
<line x1="665" y1="155" x2="790" y2="95" stroke="#f2f2f2" stroke-width="9.6" stroke-linecap="round" opacity="0.68" filter="url(#bl4)"/>
<line x1="665" y1="155" x2="721" y2="128" stroke="#fff" stroke-width="4.8" stroke-linecap="round" opacity="0.6" filter="url(#bl4)"/>
<line x1="650" y1="424.2" x2="800" y2="379.2" stroke="#666" stroke-width="8.399999999999999" stroke-linecap="round" opacity="0.75"/>
<line x1="650" y1="420" x2="800" y2="375" stroke="#f2f2f2" stroke-width="9.6" stroke-linecap="round" opacity="0.68" filter="url(#bl4)"/>
<line x1="650" y1="420" x2="718" y2="400" stroke="#fff" stroke-width="4.8" stroke-linecap="round" opacity="0.6" filter="url(#bl4)"/>
<line x1="765" y1="564.2" x2="850" y2="539.2" stroke="#666" stroke-width="8.399999999999999" stroke-linecap="round" opacity="0.75"/>
<line x1="765" y1="560" x2="850" y2="535" stroke="#f2f2f2" stroke-width="9.6" stroke-linecap="round" opacity="0.68" filter="url(#bl4)"/>
<line x1="765" y1="560" x2="803" y2="549" stroke="#fff" stroke-width="4.8" stroke-linecap="round" opacity="0.6" filter="url(#bl4)"/>
<line x1="800" y1="748.5" x2="850" y2="733.5" stroke="#666" stroke-width="7.0" stroke-linecap="round" opacity="0.75"/>
<line x1="800" y1="745" x2="850" y2="730" stroke="#f2f2f2" stroke-width="8.0" stroke-linecap="round" opacity="0.68" filter="url(#bl4)"/>
<line x1="800" y1="745" x2="822" y2="738" stroke="#fff" stroke-width="4.0" stroke-linecap="round" opacity="0.6" filter="url(#bl4)"/>
<line x1="700" y1="799.2" x2="830" y2="759.2" stroke="#666" stroke-width="8.399999999999999" stroke-linecap="round" opacity="0.75"/>
<line x1="700" y1="795" x2="830" y2="755" stroke="#f2f2f2" stroke-width="9.6" stroke-linecap="round" opacity="0.68" filter="url(#bl4)"/>
<line x1="700" y1="795" x2="758" y2="777" stroke="#fff" stroke-width="4.8" stroke-linecap="round" opacity="0.6" filter="url(#bl4)"/>
<line x1="820" y1="974.2" x2="930" y2="914.2" stroke="#666" stroke-width="8.399999999999999" stroke-linecap="round" opacity="0.75"/>
<line x1="820" y1="970" x2="930" y2="910" stroke="#f2f2f2" stroke-width="9.6" stroke-linecap="round" opacity="0.68" filter="url(#bl4)"/>
<line x1="820" y1="970" x2="870" y2="943" stroke="#fff" stroke-width="4.8" stroke-linecap="round" opacity="0.6" filter="url(#bl4)"/>
<line x1="880" y1="993.5" x2="940" y2="953.5" stroke="#666" stroke-width="7.0" stroke-linecap="round" opacity="0.75"/>
<line x1="880" y1="990" x2="940" y2="950" stroke="#f2f2f2" stroke-width="8.0" stroke-linecap="round" opacity="0.68" filter="url(#bl4)"/>
<line x1="880" y1="990" x2="907" y2="972" stroke="#fff" stroke-width="4.0" stroke-linecap="round" opacity="0.6" filter="url(#bl4)"/>
<line x1="880" y1="1104.2" x2="960" y2="1074.2" stroke="#666" stroke-width="8.399999999999999" stroke-linecap="round" opacity="0.75"/>
<line x1="880" y1="1100" x2="960" y2="1070" stroke="#f2f2f2" stroke-width="9.6" stroke-linecap="round" opacity="0.68" filter="url(#bl4)"/>
<line x1="880" y1="1100" x2="916" y2="1086" stroke="#fff" stroke-width="4.8" stroke-linecap="round" opacity="0.6" filter="url(#bl4)"/>
<line x1="885" y1="1194.2" x2="1000" y2="1129.2" stroke="#666" stroke-width="8.399999999999999" stroke-linecap="round" opacity="0.75"/>
<line x1="885" y1="1190" x2="1000" y2="1125" stroke="#f2f2f2" stroke-width="9.6" stroke-linecap="round" opacity="0.68" filter="url(#bl4)"/>
<line x1="885" y1="1190" x2="937" y2="1161" stroke="#fff" stroke-width="4.8" stroke-linecap="round" opacity="0.6" filter="url(#bl4)"/>
<line x1="1160" y1="1134.2" x2="1245" y2="1109.2" stroke="#666" stroke-width="8.399999999999999" stroke-linecap="round" opacity="0.75"/>
<line x1="1160" y1="1130" x2="1245" y2="1105" stroke="#f2f2f2" stroke-width="9.6" stroke-linecap="round" opacity="0.68" filter="url(#bl4)"/>
<line x1="1160" y1="1130" x2="1198" y2="1119" stroke="#fff" stroke-width="4.8" stroke-linecap="round" opacity="0.6" filter="url(#bl4)"/>
<line x1="990" y1="533.5" x2="1070" y2="518.5" stroke="#666" stroke-width="7.0" stroke-linecap="round" opacity="0.75"/>
<line x1="990" y1="530" x2="1070" y2="515" stroke="#f2f2f2" stroke-width="8.0" stroke-linecap="round" opacity="0.68" filter="url(#bl4)"/>
<line x1="990" y1="530" x2="1026" y2="523" stroke="#fff" stroke-width="4.0" stroke-linecap="round" opacity="0.6" filter="url(#bl4)"/>
<line x1="900" y1="204.2" x2="1020" y2="244.2" stroke="#666" stroke-width="8.399999999999999" stroke-linecap="round" opacity="0.75"/>
<line x1="900" y1="200" x2="1020" y2="240" stroke="#f2f2f2" stroke-width="9.6" stroke-linecap="round" opacity="0.68" filter="url(#bl4)"/>
<line x1="900" y1="200" x2="954" y2="218" stroke="#fff" stroke-width="4.8" stroke-linecap="round" opacity="0.6" filter="url(#bl4)"/>
<path d="M900 95 C 960 80 1020 70 1060 85 C 1090 100 1100 150 1125 185" fill="none" stroke="#666" stroke-width="10" transform="translate(3,7)" stroke-linecap="round"/>
<path d="M900 95 C 960 80 1020 70 1060 85 C 1090 100 1100 150 1125 185" fill="none" stroke="#f0f0f0" stroke-width="10" stroke-linecap="round"/>
<path d="M940 420 C 990 450 1020 470 1065 465" fill="none" stroke="#3a3a3a" stroke-width="7" stroke-linecap="round"/>
<path d="M1080 910 L 1150 870" fill="none" stroke="#3a3a3a" stroke-width="7" stroke-linecap="round"/>
<path d="M1160 1225 L 1260 1218" fill="none" stroke="#3a3a3a" stroke-width="7" stroke-linecap="round"/>
<path d="M1200 1380 L 1285 1353" fill="none" stroke="#3a3a3a" stroke-width="7" stroke-linecap="round"/>
<path d="M1040 1340 L 1060 1310" fill="none" stroke="#3a3a3a" stroke-width="7" stroke-linecap="round"/>
<path d="M780 230 C 800 210 830 200 850 200" fill="none" stroke="#3a3a3a" stroke-width="7" stroke-linecap="round"/>
<circle cx="1060" cy="465" r="8.5" fill="#333" filter="url(#bl4)"/><circle cx="1061.0" cy="466.0" r="4.0" fill="#888" filter="url(#bl4)"/>
</g>
<path d="M850 -20 C 840 100 845 200 870 350 C 900 520 950 700 1000 880 C 1060 1080 1120 1300 1200 1520" transform="translate(-66,8)" fill="none" stroke="#f6f6f6" stroke-width="44" opacity="0.9" filter="url(#bl6)"/>
<path d="M850 -20 C 840 100 845 200 870 350 C 900 520 950 700 1000 880 C 1060 1080 1120 1300 1200 1520" transform="translate(48,0)" fill="none" stroke="#0a0a0a" stroke-width="50" opacity="0.75" filter="url(#bl6)"/>
<path d="M850 -20 C 840 100 845 200 870 350 C 900 520 950 700 1000 880 C 1060 1080 1120 1300 1200 1520" fill="none" stroke="#303030" stroke-width="96"/>
<path d="M850 -20 C 840 100 845 200 870 350 C 900 520 950 700 1000 880 C 1060 1080 1120 1300 1200 1520" transform="translate(-21.12,0)" fill="none" stroke="#5a5a5a" stroke-width="17.28" opacity="0.8"/>
<path d="M850 -20 C 840 100 845 200 870 350 C 900 520 950 700 1000 880 C 1060 1080 1120 1300 1200 1520" transform="translate(4.800000000000001,0)" fill="none" stroke="#4a4a4a" stroke-width="9.600000000000001" opacity="0.8"/>
<path d="M850 -20 C 840 100 845 200 870 350 C 900 520 950 700 1000 880 C 1060 1080 1120 1300 1200 1520" transform="translate(32.64,0)" fill="none" stroke="#050505" stroke-width="30.72"/>
</g>
<rect x="72" y="1430" width="260" height="40" fill="#fafafa" />
</g></g>
<clipPath id="cp4"><rect x="-2.2" y="0.6" width="1725.2" height="1498.6"/></clipPath>
<g transform="translate(1000,388) scale(0.17870)"><g clip-path="url(#cp4)">
<g filter="url(#blp)"><rect x="-42.23839999999987" y="-39.440399999999876" width="1805.2468000000006" height="1578.6087999999997" fill="#a7a7a7"/>
<g filter="url(#bl2)"><path d="M520 20 L700 15 L705 200 L600 210 L700 250 L720 400 L640 470 L620 540" fill="none" stroke="#cfcfcf" stroke-width="22" opacity="0.8" filter="url(#bl6)"/>
<line x1="790" y1="64.2" x2="935" y2="189.2" stroke="#4a4a4a" stroke-width="8.399999999999999" stroke-linecap="round" opacity="0.75"/>
<line x1="790" y1="60" x2="935" y2="185" stroke="#f0f0f0" stroke-width="9.6" stroke-linecap="round" opacity="0.68" filter="url(#bl4)"/>
<line x1="790" y1="60" x2="855" y2="116" stroke="#fff" stroke-width="4.8" stroke-linecap="round" opacity="0.6" filter="url(#bl4)"/>
<line x1="830" y1="294.2" x2="920" y2="379.2" stroke="#4a4a4a" stroke-width="8.399999999999999" stroke-linecap="round" opacity="0.75"/>
<line x1="830" y1="290" x2="920" y2="375" stroke="#f0f0f0" stroke-width="9.6" stroke-linecap="round" opacity="0.68" filter="url(#bl4)"/>
<line x1="830" y1="290" x2="870" y2="328" stroke="#fff" stroke-width="4.8" stroke-linecap="round" opacity="0.6" filter="url(#bl4)"/>
<line x1="880" y1="550.6" x2="1035" y2="535.6" stroke="#4a4a4a" stroke-width="11.2" stroke-linecap="round" opacity="0.75"/>
<line x1="880" y1="545" x2="1035" y2="530" stroke="#f0f0f0" stroke-width="12.8" stroke-linecap="round" opacity="0.68" filter="url(#bl4)"/>
<line x1="880" y1="545" x2="950" y2="538" stroke="#fff" stroke-width="6.4" stroke-linecap="round" opacity="0.6" filter="url(#bl4)"/>
<line x1="880" y1="664.9" x2="1010" y2="659.9" stroke="#4a4a4a" stroke-width="9.799999999999999" stroke-linecap="round" opacity="0.75"/>
<line x1="880" y1="660" x2="1010" y2="655" stroke="#f0f0f0" stroke-width="11.2" stroke-linecap="round" opacity="0.68" filter="url(#bl4)"/>
<line x1="880" y1="660" x2="938" y2="658" stroke="#fff" stroke-width="5.6" stroke-linecap="round" opacity="0.6" filter="url(#bl4)"/>
<line x1="1040" y1="749.9" x2="1130" y2="744.9" stroke="#4a4a4a" stroke-width="9.799999999999999" stroke-linecap="round" opacity="0.75"/>
<line x1="1040" y1="745" x2="1130" y2="740" stroke="#f0f0f0" stroke-width="11.2" stroke-linecap="round" opacity="0.68" filter="url(#bl4)"/>
<line x1="1040" y1="745" x2="1080" y2="743" stroke="#fff" stroke-width="5.6" stroke-linecap="round" opacity="0.6" filter="url(#bl4)"/>
<line x1="700" y1="689.2" x2="800" y2="674.2" stroke="#4a4a4a" stroke-width="8.399999999999999" stroke-linecap="round" opacity="0.75"/>
<line x1="700" y1="685" x2="800" y2="670" stroke="#f0f0f0" stroke-width="9.6" stroke-linecap="round" opacity="0.68" filter="url(#bl4)"/>
<line x1="700" y1="685" x2="745" y2="678" stroke="#fff" stroke-width="4.8" stroke-linecap="round" opacity="0.6" filter="url(#bl4)"/>
<line x1="730" y1="629.2" x2="790" y2="604.2" stroke="#4a4a4a" stroke-width="8.399999999999999" stroke-linecap="round" opacity="0.75"/>
<line x1="730" y1="625" x2="790" y2="600" stroke="#f0f0f0" stroke-width="9.6" stroke-linecap="round" opacity="0.68" filter="url(#bl4)"/>
<line x1="730" y1="625" x2="757" y2="614" stroke="#fff" stroke-width="4.8" stroke-linecap="round" opacity="0.6" filter="url(#bl4)"/>
<line x1="960" y1="880.6" x2="1165" y2="825.6" stroke="#4a4a4a" stroke-width="11.2" stroke-linecap="round" opacity="0.75"/>
<line x1="960" y1="875" x2="1165" y2="820" stroke="#f0f0f0" stroke-width="12.8" stroke-linecap="round" opacity="0.68" filter="url(#bl4)"/>
<line x1="960" y1="875" x2="1052" y2="850" stroke="#fff" stroke-width="6.4" stroke-linecap="round" opacity="0.6" filter="url(#bl4)"/>
<line x1="1010" y1="1005.6" x2="1270" y2="915.6" stroke="#4a4a4a" stroke-width="11.2" stroke-linecap="round" opacity="0.75"/>
<line x1="1010" y1="1000" x2="1270" y2="910" stroke="#f0f0f0" stroke-width="12.8" stroke-linecap="round" opacity="0.68" filter="url(#bl4)"/>
<line x1="1010" y1="1000" x2="1127" y2="960" stroke="#fff" stroke-width="6.4" stroke-linecap="round" opacity="0.6" filter="url(#bl4)"/>
<line x1="1060" y1="1095.6" x2="1190" y2="1035.6" stroke="#4a4a4a" stroke-width="11.2" stroke-linecap="round" opacity="0.75"/>
<line x1="1060" y1="1090" x2="1190" y2="1030" stroke="#f0f0f0" stroke-width="12.8" stroke-linecap="round" opacity="0.68" filter="url(#bl4)"/>
<line x1="1060" y1="1090" x2="1118" y2="1063" stroke="#fff" stroke-width="6.4" stroke-linecap="round" opacity="0.6" filter="url(#bl4)"/>
<line x1="1100" y1="1164.9" x2="1260" y2="1129.9" stroke="#4a4a4a" stroke-width="9.799999999999999" stroke-linecap="round" opacity="0.75"/>
<line x1="1100" y1="1160" x2="1260" y2="1125" stroke="#f0f0f0" stroke-width="11.2" stroke-linecap="round" opacity="0.68" filter="url(#bl4)"/>
<line x1="1100" y1="1160" x2="1172" y2="1144" stroke="#fff" stroke-width="5.6" stroke-linecap="round" opacity="0.6" filter="url(#bl4)"/>
<line x1="1220" y1="1454.9" x2="1420" y2="1429.9" stroke="#4a4a4a" stroke-width="9.799999999999999" stroke-linecap="round" opacity="0.75"/>
<line x1="1220" y1="1450" x2="1420" y2="1425" stroke="#f0f0f0" stroke-width="11.2" stroke-linecap="round" opacity="0.68" filter="url(#bl4)"/>
<line x1="1220" y1="1450" x2="1310" y2="1439" stroke="#fff" stroke-width="5.6" stroke-linecap="round" opacity="0.6" filter="url(#bl4)"/>
<line x1="950" y1="784.9" x2="1100" y2="754.9" stroke="#4a4a4a" stroke-width="9.799999999999999" stroke-linecap="round" opacity="0.75"/>
<line x1="950" y1="780" x2="1100" y2="750" stroke="#f0f0f0" stroke-width="11.2" stroke-linecap="round" opacity="0.68" filter="url(#bl4)"/>
<line x1="950" y1="780" x2="1018" y2="766" stroke="#fff" stroke-width="5.6" stroke-linecap="round" opacity="0.6" filter="url(#bl4)"/>
<line x1="910" y1="1203.5" x2="980" y2="1163.5" stroke="#4a4a4a" stroke-width="7.0" stroke-linecap="round" opacity="0.75"/>
<line x1="910" y1="1200" x2="980" y2="1160" stroke="#f0f0f0" stroke-width="8.0" stroke-linecap="round" opacity="0.68" filter="url(#bl4)"/>
<line x1="910" y1="1200" x2="942" y2="1182" stroke="#fff" stroke-width="4.0" stroke-linecap="round" opacity="0.6" filter="url(#bl4)"/>
<line x1="910" y1="1283.5" x2="990" y2="1243.5" stroke="#4a4a4a" stroke-width="7.0" stroke-linecap="round" opacity="0.75"/>
<line x1="910" y1="1280" x2="990" y2="1240" stroke="#f0f0f0" stroke-width="8.0" stroke-linecap="round" opacity="0.68" filter="url(#bl4)"/>
<line x1="910" y1="1280" x2="946" y2="1262" stroke="#fff" stroke-width="4.0" stroke-linecap="round" opacity="0.6" filter="url(#bl4)"/>
<path d="M880 430 C 960 400 1050 380 1130 365 C 1160 350 1170 340 1175 330" fill="none" stroke="#555" stroke-width="9" transform="translate(2,6)" stroke-linecap="round"/>
<path d="M880 430 C 960 400 1050 380 1130 365 C 1160 350 1170 340 1175 330" fill="none" stroke="#ededed" stroke-width="9" stroke-linecap="round"/>
<path d="M1180 1340 C 1300 1350 1400 1330 1520 1340" fill="none" stroke="#555" stroke-width="9" transform="translate(2,6)" stroke-linecap="round"/>
<path d="M1180 1340 C 1300 1350 1400 1330 1520 1340" fill="none" stroke="#ededed" stroke-width="9" stroke-linecap="round"/>
<path d="M740 400 C 690 430 650 480 620 540" fill="none" stroke="#5a5a5a" stroke-width="6" transform="translate(3,5)" stroke-linecap="round"/>
<path d="M740 400 C 690 430 650 480 620 540" fill="none" stroke="#e4e4e4" stroke-width="6" stroke-linecap="round"/>
<path d="M790 800 C 720 830 660 880 630 935" fill="none" stroke="#5a5a5a" stroke-width="6" transform="translate(3,5)" stroke-linecap="round"/>
<path d="M790 800 C 720 830 660 880 630 935" fill="none" stroke="#e4e4e4" stroke-width="6" stroke-linecap="round"/>
<path d="M900 1100 C 840 1130 800 1180 755 1280" fill="none" stroke="#5a5a5a" stroke-width="6" transform="translate(3,5)" stroke-linecap="round"/>
<path d="M900 1100 C 840 1130 800 1180 755 1280" fill="none" stroke="#e4e4e4" stroke-width="6" stroke-linecap="round"/>
<path d="M990 1430 L 950 1490" fill="none" stroke="#5a5a5a" stroke-width="6" transform="translate(3,5)" stroke-linecap="round"/>
<path d="M990 1430 L 950 1490" fill="none" stroke="#e4e4e4" stroke-width="6" stroke-linecap="round"/>
<path d="M1150 1230 C 1200 1310 1280 1350 1330 1310 C 1340 1290 1310 1270 1295 1260" fill="none" stroke="#444" stroke-width="6" stroke-linecap="round"/>
<circle cx="148" cy="348" r="10.2" fill="#3a3a3a" filter="url(#bl4)"/><circle cx="149.2" cy="349.2" r="4.8" fill="#9a9a9a" filter="url(#bl4)"/>
<circle cx="1183" cy="520" r="12.8" fill="#2a2a2a" filter="url(#bl4)"/><circle cx="1184.5" cy="521.5" r="6.0" fill="#b0b0b0" filter="url(#bl4)"/>
<circle cx="525" cy="1440" r="22.1" fill="#111" filter="url(#bl4)"/><circle cx="527.6" cy="1442.6" r="10.4" fill="#fff" filter="url(#bl4)"/>
<circle cx="163" cy="1480" r="5.1" fill="#222" filter="url(#bl4)"/><circle cx="163.6" cy="1480.6" r="2.4" fill="#222" filter="url(#bl4)"/>
</g>
<path d="M745 -20 C 750 100 760 250 800 400 C 830 520 850 650 875 770 C 910 900 980 1050 1060 1200 C 1130 1330 1180 1430 1215 1520" transform="translate(-56,8)" fill="none" stroke="#f4f4f4" stroke-width="34" opacity="0.8" filter="url(#bl6)"/>
<path d="M745 -20 C 750 100 760 250 800 400 C 830 520 850 650 875 770 C 910 900 980 1050 1060 1200 C 1130 1330 1180 1430 1215 1520" transform="translate(34,0)" fill="none" stroke="#0a0a0a" stroke-width="36" opacity="0.8" filter="url(#bl6)"/>
<path d="M745 -20 C 750 100 760 250 800 400 C 830 520 850 650 875 770 C 910 900 980 1050 1060 1200 C 1130 1330 1180 1430 1215 1520" fill="none" stroke="#2a2a2a" stroke-width="78"/>
<path d="M745 -20 C 750 100 760 250 800 400 C 830 520 850 650 875 770 C 910 900 980 1050 1060 1200 C 1130 1330 1180 1430 1215 1520" transform="translate(-17.16,0)" fill="none" stroke="#5a5a5a" stroke-width="14.04" opacity="0.8"/>
<path d="M745 -20 C 750 100 760 250 800 400 C 830 520 850 650 875 770 C 910 900 980 1050 1060 1200 C 1130 1330 1180 1430 1215 1520" transform="translate(3.9000000000000004,0)" fill="none" stroke="#4a4a4a" stroke-width="7.800000000000001" opacity="0.8"/>
<path d="M745 -20 C 750 100 760 250 800 400 C 830 520 850 650 875 770 C 910 900 980 1050 1060 1200 C 1130 1330 1180 1430 1215 1520" transform="translate(26.520000000000003,0)" fill="none" stroke="#050505" stroke-width="24.96"/>
</g>
<rect x="40" y="1433" width="257" height="40" fill="#fafafa" />
</g></g>
<text x="885.8" y="418.2" font-size="32.3" textLength="102.8" lengthAdjust="spacingAndGlyphs" fill="#fff">+SHAM</text>
<text x="1198" y="420" font-size="32.3" textLength="103" lengthAdjust="spacingAndGlyphs" fill="#fff">+SHAM</text>
</g>
<g id="panel-c">
<text x="1348.1" y="54.4" font-size="72.5">c</text>
<line x1="1466" y1="61.5" x2="1466" y2="541" stroke="#000" stroke-width="1.6" />
<line x1="1457.5" y1="189.0" x2="1466" y2="189.0" stroke="#8a8a8a" stroke-width="0.8" />
<line x1="1457.5" y1="260.2" x2="1466" y2="260.2" stroke="#8a8a8a" stroke-width="0.8" />
<line x1="1457.5" y1="402.4" x2="1466" y2="402.4" stroke="#8a8a8a" stroke-width="0.8" />
<line x1="1457.5" y1="473.6" x2="1466" y2="473.6" stroke="#8a8a8a" stroke-width="0.8" />
<line x1="1456.3" y1="117.9" x2="1466" y2="117.9" stroke="#777" stroke-width="0.9" />
<line x1="1456.3" y1="331.3" x2="1466" y2="331.3" stroke="#777" stroke-width="0.9" />
<text x="1453.5" y="134.7" font-size="30.8" text-anchor="end" textLength="47.5" lengthAdjust="spacingAndGlyphs">100</text>
<text x="1450.3" y="341.9" font-size="30.8" text-anchor="end" textLength="31.7" lengthAdjust="spacingAndGlyphs">50</text>
<text x="1451.4" y="557.3" font-size="30.8" text-anchor="end" textLength="15.85" lengthAdjust="spacingAndGlyphs">0</text>
<text x="1390.8" y="452.5" font-size="29.3" font-weight="bold" transform="rotate(-90 1390.8 452.5)">nkatal/mg protein</text>
<rect x="1472.6" y="45.2" width="20.2" height="25.6" fill="#000" />
<rect x="1474.4" y="77.9" width="17.9" height="23.6" fill="#0a0aff" stroke="#000" stroke-width="2.4" />
<text x="1501" y="70.1" font-size="30.3" textLength="65.2" lengthAdjust="spacingAndGlyphs">22°C</text>
<text x="1500.6" y="101.5" font-size="30.3" textLength="65.2" lengthAdjust="spacingAndGlyphs">22°C</text>
<text x="1557.42" y="101.61" font-size="44.92">→</text>
<text x="1595.2" y="101.5" font-size="30.3" textLength="62.6" lengthAdjust="spacingAndGlyphs">10°C</text>
<rect x="1473.2" y="164.9" width="43.1" height="375.5" fill="#000" />
<rect x="1524.2" y="141.2" width="41.4" height="399.2" fill="#0a0aff" stroke="#000" stroke-width="2.2" />
<rect x="1592.1" y="230.2" width="42.9" height="310.2" fill="#050505" />
<rect x="1640.1" y="194.6" width="40.8" height="345.79999999999995" fill="#0a0aff" stroke="#000" stroke-width="2.2" />
<line x1="1458.2" y1="540.4" x2="1706.5" y2="540.4" stroke="#000" stroke-width="3.8" />
<circle cx="1489.6" cy="166" r="2.2" fill="#ff0a0a"/>
<circle cx="1494.9" cy="166" r="2.2" fill="#ff0a0a"/>
<circle cx="1500.4" cy="166" r="2.2" fill="#ff0a0a"/>
<line x1="1488" y1="165.6" x2="1502" y2="165.6" stroke="#ff0a0a" stroke-width="0.8" />
<line x1="1543.5" y1="133" x2="1543.5" y2="152" stroke="#000" stroke-width="1.3" />
<line x1="1538.5" y1="133" x2="1548.5" y2="133" stroke="#000" stroke-width="1.3" />
<line x1="1538.5" y1="152" x2="1548.5" y2="152" stroke="#000" stroke-width="1.3" />
<circle cx="1543.5" cy="135.3" r="2.2" fill="#ff0a0a"/>
<circle cx="1543.5" cy="140.6" r="2.2" fill="#ff0a0a"/>
<circle cx="1543.5" cy="152" r="2.2" fill="#ff0a0a"/>
<line x1="1611.9" y1="224.7" x2="1611.9" y2="238.3" stroke="#000" stroke-width="1.3" />
<line x1="1606.9" y1="224.7" x2="1616.9" y2="224.7" stroke="#000" stroke-width="1.3" />
<line x1="1606.9" y1="238.3" x2="1616.9" y2="238.3" stroke="#000" stroke-width="1.3" />
<circle cx="1611.9" cy="225.9" r="2.2" fill="#ff0a0a"/>
<circle cx="1611.9" cy="229.9" r="2.2" fill="#ff0a0a"/>
<circle cx="1611.9" cy="237.6" r="2.2" fill="#ff0a0a"/>
<line x1="1659.5" y1="189.4" x2="1659.5" y2="198.5" stroke="#000" stroke-width="1.3" />
<line x1="1654.5" y1="189.4" x2="1664.5" y2="189.4" stroke="#000" stroke-width="1.3" />
<line x1="1654.5" y1="198.5" x2="1664.5" y2="198.5" stroke="#000" stroke-width="1.3" />
<circle cx="1659.5" cy="189.9" r="2.2" fill="#ff0a0a"/>
<circle cx="1659.5" cy="194.2" r="2.2" fill="#ff0a0a"/>
<circle cx="1659.5" cy="198.2" r="2.2" fill="#ff0a0a"/>
<text x="1544.6" y="138.8" font-size="37.5" text-anchor="middle">**</text>
<text x="1611" y="230.8" font-size="37.5" text-anchor="middle">**</text>
<text x="1661.7" y="192.6" font-size="37.5" text-anchor="middle">**</text>
<text x="1537.5" y="560.7" font-size="32.7" text-anchor="end" transform="rotate(-45 1537.5 560.7)">Col-0</text>
<text x="1654.8" y="560.9" font-size="32.7" text-anchor="end" transform="rotate(-45 1654.8 560.9)">Col-0 + SHAM</text>
</g>
<g id="panel-d">
<text x="11.0" y="819.0" font-size="71">d</text>
<text x="87.8" y="843.6" font-size="32.6" textLength="124" lengthAdjust="spacingAndGlyphs">Isoforms</text>
<text x="350.2" y="836.9" font-size="35.3" textLength="309.2" lengthAdjust="spacingAndGlyphs">PRX62 (AT5G39580)</text>
<text x="79.6" y="888.2" font-size="28.5" textLength="167.8" lengthAdjust="spacingAndGlyphs">AT5G39580.1</text>
<text x="77" y="936.4" font-size="28.5" textLength="171.5" lengthAdjust="spacingAndGlyphs">AT5G39580.2</text>
<line x1="433" y1="882" x2="675" y2="882" stroke="#000" stroke-width="1.8" />
<rect x="305.4" y="868.8" width="27.600000000000023" height="26.600000000000023" fill="#989898" stroke="#000" stroke-width="3" />
<rect x="333.2" y="867.3" width="100.60000000000002" height="29.600000000000023" fill="#000" />
<rect x="550.7" y="867.3" width="42.19999999999993" height="29.600000000000023" fill="#000" />
<path d="M777.5 868.8 H826.5 L831.9 882.0999999999999 L826.5 895.4 H777.5 Z" fill="#989898" stroke="#000" stroke-width="3" stroke-linejoin="miter"/>
<rect x="673.7" y="867.3" width="104.59999999999991" height="29.600000000000023" fill="#000" />
<line x1="433" y1="928.6" x2="675" y2="928.6" stroke="#000" stroke-width="1.8" />
<rect x="313.7" y="915.4" width="19.30000000000001" height="26.899999999999977" fill="#989898" stroke="#000" stroke-width="3" />
<rect x="333.2" y="913.9" width="100.60000000000002" height="29.899999999999977" fill="#000" />
<rect x="550.7" y="913.9" width="43.89999999999998" height="29.899999999999977" fill="#000" />
<path d="M714.5 915.4 H824.1 L829.1999999999999 928.8499999999999 L824.1 942.3 H714.5 Z" fill="#989898" stroke="#000" stroke-width="3" stroke-linejoin="miter"/>
<rect x="674.3" y="913.9" width="40.90000000000009" height="29.899999999999977" fill="#000" />
<text x="948.3" y="843.2" font-size="32.6" textLength="125" lengthAdjust="spacingAndGlyphs">Isoforms</text>
<text x="1230.9" y="837.2" font-size="35.3" textLength="310.6" lengthAdjust="spacingAndGlyphs">PRX69 (AT5G64100)</text>
<text x="933.4" y="896.4" font-size="28.5" textLength="170.3" lengthAdjust="spacingAndGlyphs">AT5G64100.1</text>
<text x="933.4" y="941" font-size="28.5" textLength="171.8" lengthAdjust="spacingAndGlyphs">AT5G64100.2</text>
<line x1="1339" y1="881.8" x2="1483" y2="881.8" stroke="#000" stroke-width="1.8" />
<rect x="1124.3" y="868.3" width="64.20000000000005" height="27.200000000000045" fill="#989898" stroke="#000" stroke-width="3" />
<rect x="1187.6" y="866.8" width="152.60000000000014" height="30.200000000000045" fill="#000" />
<rect x="1389.8" y="866.8" width="57.90000000000009" height="30.200000000000045" fill="#000" />
<path d="M1627.5 868.3 H1712.9 L1718.3 881.9 L1712.9 895.5 H1627.5 Z" fill="#989898" stroke="#000" stroke-width="3" stroke-linejoin="miter"/>
<rect x="1481.6" y="866.8" width="146.80000000000018" height="30.200000000000045" fill="#000" />
<line x1="1279" y1="928.2" x2="1483" y2="928.2" stroke="#000" stroke-width="1.8" />
<rect x="1143.9" y="915.3" width="44.59999999999991" height="26.800000000000068" fill="#989898" stroke="#000" stroke-width="3" />
<rect x="1187.6" y="913.8" width="92.5" height="29.800000000000068" fill="#000" />
<rect x="1313.0" y="915.3" width="25.700000000000045" height="26.800000000000068" fill="#989898" stroke="#000" stroke-width="3" />
<rect x="1391.3" y="915.3" width="54.90000000000009" height="26.800000000000068" fill="#989898" stroke="#000" stroke-width="3" />
<path d="M1483.1 915.3 H1687.4 L1692.3999999999999 928.7 L1687.4 942.1 H1483.1 Z" fill="#989898" stroke="#000" stroke-width="3" stroke-linejoin="miter"/>
<line x1="169.5" y1="1048.9" x2="212.9" y2="1048.9" stroke="#7186c3" stroke-width="13.7" />
<text x="235.4" y="1062.2" font-size="36" textLength="205.5" lengthAdjust="spacingAndGlyphs">AT5G39580.1</text>
<line x1="480" y1="1053" x2="523.3" y2="1053" stroke="#69a548" stroke-width="13.8" />
<text x="545.3" y="1066.4" font-size="36" textLength="210" lengthAdjust="spacingAndGlyphs">AT5G39580.2</text>
<rect x="119.3" y="1082.7" width="220.7" height="775.8" fill="none" stroke="#3a3a3a" stroke-width="2.1" />
<rect x="347.7" y="1082.7" width="232.50000000000006" height="775.8" fill="none" stroke="#3a3a3a" stroke-width="2.1" />
<rect x="588.4" y="1082.7" width="247.60000000000002" height="779.8" fill="none" stroke="#3a3a3a" stroke-width="2.1" />
<text x="128.8" y="1134.3" font-size="51" textLength="108.2" lengthAdjust="spacingAndGlyphs" fill="#222">Bu-2</text>
<text x="357.5" y="1135.3" font-size="51" textLength="122" lengthAdjust="spacingAndGlyphs" fill="#222">Col-0</text>
<text x="601.8" y="1136.5" font-size="51" textLength="113" lengthAdjust="spacingAndGlyphs" fill="#222">Wc-1</text>
<line x1="114.2" y1="1089" x2="119.3" y2="1089" stroke="#333" stroke-width="3.8" />
<text x="112.3" y="1097.8" font-size="36.3" text-anchor="end" textLength="56.7" lengthAdjust="spacingAndGlyphs" fill="#4d4d4d">600</text>
<line x1="114.2" y1="1336.5" x2="119.3" y2="1336.5" stroke="#333" stroke-width="3.8" />
<text x="112.3" y="1345.3" font-size="36.3" text-anchor="end" textLength="56.7" lengthAdjust="spacingAndGlyphs" fill="#4d4d4d">400</text>
<line x1="114.2" y1="1584.2" x2="119.3" y2="1584.2" stroke="#333" stroke-width="3.8" />
<text x="112.3" y="1593.0" font-size="36.3" text-anchor="end" textLength="56.7" lengthAdjust="spacingAndGlyphs" fill="#4d4d4d">200</text>
<line x1="114.2" y1="1832" x2="119.3" y2="1832" stroke="#333" stroke-width="3.8" />
<text x="95.8" y="1840.8" font-size="36.3" text-anchor="end" textLength="18.9" lengthAdjust="spacingAndGlyphs" fill="#4d4d4d">0</text>
<text x="67.1" y="1501.3" font-size="40.7" textLength="84.6" lengthAdjust="spacingAndGlyphs" transform="rotate(-90 67.1 1501.3)">TPM</text>
<line x1="179.3" y1="1858.5" x2="179.3" y2="1866.0" stroke="#333" stroke-width="2.8" />
<line x1="279.8" y1="1858.5" x2="279.8" y2="1866.0" stroke="#333" stroke-width="2.8" />
<line x1="410.7" y1="1858.5" x2="410.7" y2="1866.0" stroke="#333" stroke-width="2.8" />
<line x1="516.7" y1="1858.5" x2="516.7" y2="1866.0" stroke="#333" stroke-width="2.8" />
<line x1="655.5" y1="1862.5" x2="655.5" y2="1870.0" stroke="#333" stroke-width="2.8" />
<line x1="768.5" y1="1862.5" x2="768.5" y2="1870.0" stroke="#333" stroke-width="2.8" />
<text x="132.5" y="1894.2" font-size="27.6" textLength="50.5" lengthAdjust="spacingAndGlyphs">22°C</text>
<text x="205.9" y="1894.2" font-size="27.6" textLength="50.5" lengthAdjust="spacingAndGlyphs">22°C</text>
<text x="249.47" y="1893.89" font-size="38.14">→</text>
<text x="280.9" y="1894.2" font-size="27.6" textLength="50" lengthAdjust="spacingAndGlyphs">10°C</text>
<text x="373.1" y="1895.4" font-size="27.6" textLength="50.5" lengthAdjust="spacingAndGlyphs">22°C</text>
<text x="445.90000000000003" y="1895.4" font-size="27.6" textLength="50.5" lengthAdjust="spacingAndGlyphs">22°C</text>
<text x="489.47" y="1895.09" font-size="38.14">→</text>
<text x="520.9" y="1895.4" font-size="27.6" textLength="50" lengthAdjust="spacingAndGlyphs">10°C</text>
<text x="613.8" y="1898.6" font-size="27.6" textLength="50.5" lengthAdjust="spacingAndGlyphs">22°C</text>
<text x="687.5999999999999" y="1898.6" font-size="27.6" textLength="50.5" lengthAdjust="spacingAndGlyphs">22°C</text>
<text x="731.17" y="1898.29" font-size="38.14">→</text>
<text x="762.5999999999999" y="1898.6" font-size="27.6" textLength="50" lengthAdjust="spacingAndGlyphs">10°C</text>
<text x="368" y="1939.8" font-size="36.5" textLength="183.2" lengthAdjust="spacingAndGlyphs">Conditions</text>
<path d="M220 2029.4 L597.8 1957.7 V2029.4 Z" fill="#1b14f0"/>
<text x="615.3" y="2020.3" font-size="46" textLength="210.5" lengthAdjust="spacingAndGlyphs">RH growth</text>
<line x1="179.3" y1="1799" x2="279.8" y2="1783" stroke="#7b9bf2" stroke-width="7.6" stroke-linecap="butt"/>
<path d="M179.3 1788 L190.3 1799 L179.3 1810 L168.3 1799 Z" fill="#7b9bf2"/>
<path d="M279.8 1773 L289.8 1783 L279.8 1793 L269.8 1783 Z" fill="#7b9bf2"/>
<line x1="179.3" y1="1823" x2="279.8" y2="1822.5" stroke="#62b246" stroke-width="8" />
<path d="M179.3 1809.2 L191.3 1829.2 L167.3 1829.2 Z" fill="#62b246"/>
<path d="M279.8 1808.7 L291.8 1828.7 L267.8 1828.7 Z" fill="#62b246"/>
<line x1="410.7" y1="1692" x2="516.6" y2="1133.5" stroke="#7b9bf2" stroke-width="7.6" stroke-linecap="butt"/>
<path d="M410.7 1681 L421.7 1692 L410.7 1703 L399.7 1692 Z" fill="#7b9bf2"/>
<path d="M516.6 1122.0 L528.1 1133.5 L516.6 1145.0 L505.1 1133.5 Z" fill="#7b9bf2"/>
<line x1="410.7" y1="1821.5" x2="516.6" y2="1816.8" stroke="#62b246" stroke-width="8" />
<path d="M410.7 1807.7 L422.7 1827.7 L398.7 1827.7 Z" fill="#62b246"/>
<path d="M516.6 1803.0 L528.6 1823.0 L504.6 1823.0 Z" fill="#62b246"/>
<line x1="655.5" y1="1714" x2="768.9" y2="1193.8" stroke="#7b9bf2" stroke-width="7.6" stroke-linecap="butt"/>
<path d="M655.5 1703 L666.5 1714 L655.5 1725 L644.5 1714 Z" fill="#7b9bf2"/>
<path d="M768.9 1182.3 L780.4 1193.8 L768.9 1205.3 L757.4 1193.8 Z" fill="#7b9bf2"/>
<line x1="655.5" y1="1826" x2="768.9" y2="1823" stroke="#62b246" stroke-width="8" />
<path d="M655.5 1812.2 L667.5 1832.2 L643.5 1832.2 Z" fill="#62b246"/>
<path d="M768.9 1809.2 L780.9 1829.2 L756.9 1829.2 Z" fill="#62b246"/>
<line x1="173.8" y1="1799.2" x2="184.8" y2="1799.2" stroke="#000" stroke-width="2.6" />
<line x1="279.8" y1="1779.2" x2="279.8" y2="1786.4" stroke="#000" stroke-width="2.6" />
<line x1="274.3" y1="1779.2" x2="285.3" y2="1779.2" stroke="#000" stroke-width="2.6" />
<line x1="274.3" y1="1786.4" x2="285.3" y2="1786.4" stroke="#000" stroke-width="2.6" />
<line x1="173.8" y1="1824" x2="184.8" y2="1824" stroke="#000" stroke-width="2" />
<line x1="274.3" y1="1823.5" x2="285.3" y2="1823.5" stroke="#000" stroke-width="3" />
<line x1="410.7" y1="1686.3" x2="410.7" y2="1697.5" stroke="#000" stroke-width="2.6" />
<line x1="405.2" y1="1686.3" x2="416.2" y2="1686.3" stroke="#000" stroke-width="2.6" />
<line x1="405.2" y1="1697.5" x2="416.2" y2="1697.5" stroke="#000" stroke-width="2.6" />
<line x1="516.8" y1="1123.9" x2="516.8" y2="1143.3" stroke="#000" stroke-width="2" />
<line x1="511.4" y1="1123.9" x2="522.1999999999999" y2="1123.9" stroke="#000" stroke-width="2" />
<line x1="511.4" y1="1143.3" x2="522.1999999999999" y2="1143.3" stroke="#000" stroke-width="2" />
<line x1="405.2" y1="1822.6" x2="416.2" y2="1822.6" stroke="#000" stroke-width="2" />
<line x1="516.6" y1="1816.8" x2="516.6" y2="1819.2" stroke="#000" stroke-width="1.6" />
<line x1="511.1" y1="1816.8" x2="522.1" y2="1816.8" stroke="#000" stroke-width="1.6" />
<line x1="511.1" y1="1819.2" x2="522.1" y2="1819.2" stroke="#000" stroke-width="1.6" />
<line x1="655.5" y1="1710.3" x2="655.5" y2="1717.7" stroke="#000" stroke-width="2.2" />
<line x1="650.0" y1="1710.3" x2="661.0" y2="1710.3" stroke="#000" stroke-width="2.2" />
<line x1="650.0" y1="1717.7" x2="661.0" y2="1717.7" stroke="#000" stroke-width="2.2" />
<line x1="768.9" y1="1188.8" x2="768.9" y2="1193.2" stroke="#000" stroke-width="2.6" />
<line x1="763.0" y1="1188.8" x2="774.8" y2="1188.8" stroke="#000" stroke-width="2.6" />
<line x1="763.0" y1="1193.2" x2="774.8" y2="1193.2" stroke="#000" stroke-width="2.6" />
<line x1="650.0" y1="1827" x2="661.0" y2="1827" stroke="#000" stroke-width="2.2" />
<line x1="768.5" y1="1822" x2="768.5" y2="1825" stroke="#000" stroke-width="1.6" />
<line x1="763.0" y1="1822" x2="774.0" y2="1822" stroke="#000" stroke-width="1.6" />
<line x1="763.0" y1="1825" x2="774.0" y2="1825" stroke="#000" stroke-width="1.6" />
<line x1="1062.4" y1="1049.4" x2="1105.3" y2="1049.4" stroke="#7186c3" stroke-width="14" />
<text x="1127.2" y="1064.7" font-size="36" textLength="204.4" lengthAdjust="spacingAndGlyphs">AT5G64100.1</text>
<line x1="1385.8" y1="1049.9" x2="1428.8" y2="1049.9" stroke="#69a548" stroke-width="14" />
<text x="1454.2" y="1065" font-size="36" textLength="207.8" lengthAdjust="spacingAndGlyphs">AT5G64100.2</text>
<rect x="1018.5" y="1083.5" width="229.0" height="779.5" fill="none" stroke="#3a3a3a" stroke-width="2.1" />
<rect x="1258.5" y="1083.5" width="234.5" height="779.5" fill="none" stroke="#3a3a3a" stroke-width="2.1" />
<rect x="1502" y="1085" width="228" height="779" fill="none" stroke="#3a3a3a" stroke-width="2.1" />
<text x="1036.8" y="1129.8" font-size="46" textLength="99.1" lengthAdjust="spacingAndGlyphs" fill="#222">Bu-2</text>
<text x="1277.7" y="1129.8" font-size="46" textLength="111.8" lengthAdjust="spacingAndGlyphs" fill="#222">Col-0</text>
<text x="1516.5" y="1129.8" font-size="46" textLength="107" lengthAdjust="spacingAndGlyphs" fill="#222">Wc-1</text>
<line x1="1010.6" y1="1231" x2="1018.5" y2="1231" stroke="#333" stroke-width="4.3" />
<text x="1006.4" y="1238.5" font-size="31.8" text-anchor="end" textLength="71.0" lengthAdjust="spacingAndGlyphs" fill="#4d4d4d">1000</text>
<line x1="1010.6" y1="1381" x2="1018.5" y2="1381" stroke="#333" stroke-width="4.3" />
<text x="999.5" y="1388.5" font-size="31.8" text-anchor="end" textLength="53.25" lengthAdjust="spacingAndGlyphs" fill="#4d4d4d">750</text>
<line x1="1010.6" y1="1530.8" x2="1018.5" y2="1530.8" stroke="#333" stroke-width="4.3" />
<text x="999.5" y="1538.3" font-size="31.8" text-anchor="end" textLength="53.25" lengthAdjust="spacingAndGlyphs" fill="#4d4d4d">500</text>
<line x1="1010.6" y1="1680.6" x2="1018.5" y2="1680.6" stroke="#333" stroke-width="4.3" />
<text x="999.5" y="1688.1" font-size="31.8" text-anchor="end" textLength="53.25" lengthAdjust="spacingAndGlyphs" fill="#4d4d4d">250</text>
<line x1="1010.6" y1="1830.4" x2="1018.5" y2="1830.4" stroke="#333" stroke-width="4.3" />
<text x="985.5" y="1837.9" font-size="31.8" text-anchor="end" textLength="17.75" lengthAdjust="spacingAndGlyphs" fill="#4d4d4d">0</text>
<text x="958.7" y="1489.8" font-size="40.6" textLength="80.9" lengthAdjust="spacingAndGlyphs" transform="rotate(-90 958.7 1489.8)">TPM</text>
<line x1="1080.5" y1="1863" x2="1080.5" y2="1870.5" stroke="#333" stroke-width="2.8" />
<line x1="1184.5" y1="1863" x2="1184.5" y2="1870.5" stroke="#333" stroke-width="2.8" />
<line x1="1321.5" y1="1863" x2="1321.5" y2="1870.5" stroke="#333" stroke-width="2.8" />
<line x1="1428" y1="1863" x2="1428" y2="1870.5" stroke="#333" stroke-width="2.8" />
<line x1="1562" y1="1864" x2="1562" y2="1871.5" stroke="#333" stroke-width="2.8" />
<line x1="1665.5" y1="1864" x2="1665.5" y2="1871.5" stroke="#333" stroke-width="2.8" />
<text x="1054.3" y="1895" font-size="27.6" textLength="50.5" lengthAdjust="spacingAndGlyphs">22°C</text>
<text x="1127.6" y="1895" font-size="27.6" textLength="50.5" lengthAdjust="spacingAndGlyphs">22°C</text>
<text x="1171.17" y="1894.69" font-size="38.14">→</text>
<text x="1202.6" y="1895" font-size="27.6" textLength="50" lengthAdjust="spacingAndGlyphs">10°C</text>
<text x="1294.8" y="1896.5" font-size="27.6" textLength="50.5" lengthAdjust="spacingAndGlyphs">22°C</text>
<text x="1368.1" y="1896.5" font-size="27.6" textLength="50.5" lengthAdjust="spacingAndGlyphs">22°C</text>
<text x="1411.67" y="1896.19" font-size="38.14">→</text>
<text x="1443.1" y="1896.5" font-size="27.6" textLength="50" lengthAdjust="spacingAndGlyphs">10°C</text>
<text x="1535.8" y="1900" font-size="27.6" textLength="50.5" lengthAdjust="spacingAndGlyphs">22°C</text>
<text x="1609.6" y="1900" font-size="27.6" textLength="50.5" lengthAdjust="spacingAndGlyphs">22°C</text>
<text x="1653.17" y="1899.69" font-size="38.14">→</text>
<text x="1684.6" y="1900" font-size="27.6" textLength="50" lengthAdjust="spacingAndGlyphs">10°C</text>
<text x="1289.7" y="1941.7" font-size="36.5" textLength="183" lengthAdjust="spacingAndGlyphs">Conditions</text>
<path d="M1141.5 2030.8 L1519.5 1959.7 V2030.8 Z" fill="#1b14f0"/>
<text x="1537.2" y="2021.7" font-size="46" textLength="210.5" lengthAdjust="spacingAndGlyphs">RH growth</text>
<path d="M1080.3 1482.1 L1091.0 1498.5 L1069.6 1498.5 Z" fill="#a6b5f8"/>
<path d="M1185.4 1427.9 L1196.1000000000001 1444.3 L1174.7 1444.3 Z" fill="#a6b5f8"/>
<line x1="1082.8" y1="1491.1999999999998" x2="1184.4" y2="1438.9" stroke="#7d96f4" stroke-width="6.8" />
<line x1="1080.3" y1="1828.5" x2="1184.6" y2="1828.5" stroke="#1db80a" stroke-width="7.2" />
<path d="M1080.3 1817.3 L1091.5 1828.5 L1080.3 1839.7 L1069.1 1828.5 Z" fill="#0e9a1e"/>
<path d="M1184.6 1817.3 L1195.8 1828.5 L1184.6 1839.7 L1173.3999999999999 1828.5 Z" fill="#0e9a1e"/>
<line x1="1080.3" y1="1466.3" x2="1080.3" y2="1520" stroke="#000" stroke-width="1.8" />
<line x1="1075.0" y1="1466.3" x2="1085.6" y2="1466.3" stroke="#000" stroke-width="1.8" />
<line x1="1075.0" y1="1520" x2="1085.6" y2="1520" stroke="#000" stroke-width="1.8" />
<line x1="1185.4" y1="1412.8" x2="1185.4" y2="1459.5" stroke="#000" stroke-width="1.8" />
<line x1="1180.1000000000001" y1="1412.8" x2="1190.7" y2="1412.8" stroke="#000" stroke-width="1.8" />
<line x1="1180.1000000000001" y1="1459.5" x2="1190.7" y2="1459.5" stroke="#000" stroke-width="1.8" />
<line x1="1075.3" y1="1828.5" x2="1085.3" y2="1828.5" stroke="#000" stroke-width="1.9" />
<line x1="1179.6" y1="1828.5" x2="1189.6" y2="1828.5" stroke="#000" stroke-width="1.9" />
<path d="M1322.3 1407.1 L1333.0 1423.5 L1311.6 1423.5 Z" fill="#a6b5f8"/>
<path d="M1429.4 1383.5 L1440.1000000000001 1399.9 L1418.7 1399.9 Z" fill="#a6b5f8"/>
<line x1="1324.8" y1="1416.1999999999998" x2="1428.4" y2="1394.5" stroke="#7d96f4" stroke-width="6.8" />
<line x1="1320.2" y1="1826.2" x2="1424.7" y2="1826.5" stroke="#1db80a" stroke-width="7.2" />
<path d="M1320.2 1815.0 L1331.4 1826.2 L1320.2 1837.4 L1309.0 1826.2 Z" fill="#0e9a1e"/>
<path d="M1424.7 1815.3 L1435.9 1826.5 L1424.7 1837.7 L1413.5 1826.5 Z" fill="#0e9a1e"/>
<line x1="1322.3" y1="1403.5" x2="1322.3" y2="1431.2" stroke="#000" stroke-width="1.8" />
<line x1="1317.0" y1="1403.5" x2="1327.6" y2="1403.5" stroke="#000" stroke-width="1.8" />
<line x1="1317.0" y1="1431.2" x2="1327.6" y2="1431.2" stroke="#000" stroke-width="1.8" />
<line x1="1429.4" y1="1382.6" x2="1429.4" y2="1402.3" stroke="#000" stroke-width="1.8" />
<line x1="1424.1000000000001" y1="1382.6" x2="1434.7" y2="1382.6" stroke="#000" stroke-width="1.8" />
<line x1="1424.1000000000001" y1="1402.3" x2="1434.7" y2="1402.3" stroke="#000" stroke-width="1.8" />
<line x1="1315.2" y1="1826.2" x2="1325.2" y2="1826.2" stroke="#000" stroke-width="1.9" />
<line x1="1419.7" y1="1826.5" x2="1429.7" y2="1826.5" stroke="#000" stroke-width="1.9" />
<path d="M1563 1550.5 L1573.7 1566.9 L1552.3 1566.9 Z" fill="#a6b5f8"/>
<path d="M1667 1503.0 L1677.7 1519.4 L1656.3 1519.4 Z" fill="#a6b5f8"/>
<line x1="1565.5" y1="1559.6" x2="1666" y2="1514.0" stroke="#7d96f4" stroke-width="6.8" />
<line x1="1562" y1="1822" x2="1666.5" y2="1822.5" stroke="#1db80a" stroke-width="7.2" />
<path d="M1562 1810.8 L1573.2 1822 L1562 1833.2 L1550.8 1822 Z" fill="#0e9a1e"/>
<path d="M1666.5 1811.3 L1677.7 1822.5 L1666.5 1833.7 L1655.3 1822.5 Z" fill="#0e9a1e"/>
<line x1="1563" y1="1549" x2="1563" y2="1573.5" stroke="#000" stroke-width="1.8" />
<line x1="1557.7" y1="1549" x2="1568.3" y2="1549" stroke="#000" stroke-width="1.8" />
<line x1="1557.7" y1="1573.5" x2="1568.3" y2="1573.5" stroke="#000" stroke-width="1.8" />
<line x1="1667" y1="1512.5" x2="1667" y2="1514.5" stroke="#000" stroke-width="1.8" />
<line x1="1661.7" y1="1512.5" x2="1672.3" y2="1512.5" stroke="#000" stroke-width="1.8" />
<line x1="1661.7" y1="1514.5" x2="1672.3" y2="1514.5" stroke="#000" stroke-width="1.8" />
<line x1="1557" y1="1822" x2="1567" y2="1822" stroke="#000" stroke-width="1.9" />
<line x1="1661.5" y1="1822.5" x2="1671.5" y2="1822.5" stroke="#000" stroke-width="1.9" />
</g>
</svg>
</body></html>
